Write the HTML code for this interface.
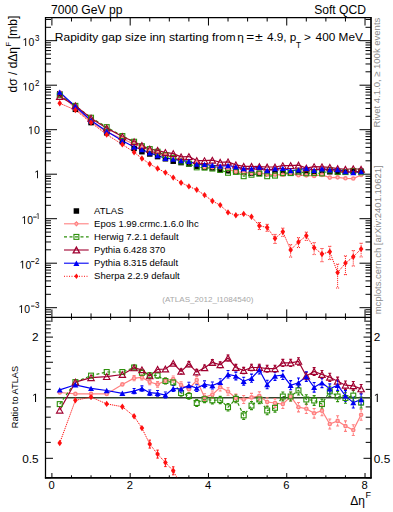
<!DOCTYPE html><html><head><meta charset="utf-8"><style>html,body{margin:0;padding:0;background:#fff;width:393px;height:512px;overflow:hidden;position:relative}svg text{font-family:"Liberation Sans",sans-serif}</style></head><body><svg width="393" height="512" viewBox="0 0 393 512" style="position:absolute;left:0;top:0">
<defs><clipPath id="cm"><rect x="45.5" y="17.5" width="325.5" height="299.9"/></clipPath><clipPath id="cr"><rect x="45.5" y="317.4" width="325.5" height="160.2"/></clipPath></defs>
<line x1="45.5" y1="317.57" x2="51" y2="317.57" stroke="#000" stroke-width="1.0"/>
<line x1="371" y1="317.57" x2="365.5" y2="317.57" stroke="#000" stroke-width="1.0"/>
<line x1="45.5" y1="314.59" x2="51" y2="314.59" stroke="#000" stroke-width="1.0"/>
<line x1="371" y1="314.59" x2="365.5" y2="314.59" stroke="#000" stroke-width="1.0"/>
<line x1="45.5" y1="312.01" x2="51" y2="312.01" stroke="#000" stroke-width="1.0"/>
<line x1="371" y1="312.01" x2="365.5" y2="312.01" stroke="#000" stroke-width="1.0"/>
<line x1="45.5" y1="309.74" x2="51" y2="309.74" stroke="#000" stroke-width="1.0"/>
<line x1="371" y1="309.74" x2="365.5" y2="309.74" stroke="#000" stroke-width="1.0"/>
<line x1="45.5" y1="307.7" x2="57" y2="307.7" stroke="#000" stroke-width="1.0"/>
<line x1="371" y1="307.7" x2="359.5" y2="307.7" stroke="#000" stroke-width="1.0"/>
<line x1="45.5" y1="294.3" x2="51" y2="294.3" stroke="#000" stroke-width="1.0"/>
<line x1="371" y1="294.3" x2="365.5" y2="294.3" stroke="#000" stroke-width="1.0"/>
<line x1="45.5" y1="286.47" x2="51" y2="286.47" stroke="#000" stroke-width="1.0"/>
<line x1="371" y1="286.47" x2="365.5" y2="286.47" stroke="#000" stroke-width="1.0"/>
<line x1="45.5" y1="280.91" x2="51" y2="280.91" stroke="#000" stroke-width="1.0"/>
<line x1="371" y1="280.91" x2="365.5" y2="280.91" stroke="#000" stroke-width="1.0"/>
<line x1="45.5" y1="276.6" x2="51" y2="276.6" stroke="#000" stroke-width="1.0"/>
<line x1="371" y1="276.6" x2="365.5" y2="276.6" stroke="#000" stroke-width="1.0"/>
<line x1="45.5" y1="273.07" x2="51" y2="273.07" stroke="#000" stroke-width="1.0"/>
<line x1="371" y1="273.07" x2="365.5" y2="273.07" stroke="#000" stroke-width="1.0"/>
<line x1="45.5" y1="270.09" x2="51" y2="270.09" stroke="#000" stroke-width="1.0"/>
<line x1="371" y1="270.09" x2="365.5" y2="270.09" stroke="#000" stroke-width="1.0"/>
<line x1="45.5" y1="267.51" x2="51" y2="267.51" stroke="#000" stroke-width="1.0"/>
<line x1="371" y1="267.51" x2="365.5" y2="267.51" stroke="#000" stroke-width="1.0"/>
<line x1="45.5" y1="265.24" x2="51" y2="265.24" stroke="#000" stroke-width="1.0"/>
<line x1="371" y1="265.24" x2="365.5" y2="265.24" stroke="#000" stroke-width="1.0"/>
<line x1="45.5" y1="263.2" x2="57" y2="263.2" stroke="#000" stroke-width="1.0"/>
<line x1="371" y1="263.2" x2="359.5" y2="263.2" stroke="#000" stroke-width="1.0"/>
<line x1="45.5" y1="249.8" x2="51" y2="249.8" stroke="#000" stroke-width="1.0"/>
<line x1="371" y1="249.8" x2="365.5" y2="249.8" stroke="#000" stroke-width="1.0"/>
<line x1="45.5" y1="241.97" x2="51" y2="241.97" stroke="#000" stroke-width="1.0"/>
<line x1="371" y1="241.97" x2="365.5" y2="241.97" stroke="#000" stroke-width="1.0"/>
<line x1="45.5" y1="236.41" x2="51" y2="236.41" stroke="#000" stroke-width="1.0"/>
<line x1="371" y1="236.41" x2="365.5" y2="236.41" stroke="#000" stroke-width="1.0"/>
<line x1="45.5" y1="232.1" x2="51" y2="232.1" stroke="#000" stroke-width="1.0"/>
<line x1="371" y1="232.1" x2="365.5" y2="232.1" stroke="#000" stroke-width="1.0"/>
<line x1="45.5" y1="228.57" x2="51" y2="228.57" stroke="#000" stroke-width="1.0"/>
<line x1="371" y1="228.57" x2="365.5" y2="228.57" stroke="#000" stroke-width="1.0"/>
<line x1="45.5" y1="225.59" x2="51" y2="225.59" stroke="#000" stroke-width="1.0"/>
<line x1="371" y1="225.59" x2="365.5" y2="225.59" stroke="#000" stroke-width="1.0"/>
<line x1="45.5" y1="223.01" x2="51" y2="223.01" stroke="#000" stroke-width="1.0"/>
<line x1="371" y1="223.01" x2="365.5" y2="223.01" stroke="#000" stroke-width="1.0"/>
<line x1="45.5" y1="220.74" x2="51" y2="220.74" stroke="#000" stroke-width="1.0"/>
<line x1="371" y1="220.74" x2="365.5" y2="220.74" stroke="#000" stroke-width="1.0"/>
<line x1="45.5" y1="218.7" x2="57" y2="218.7" stroke="#000" stroke-width="1.0"/>
<line x1="371" y1="218.7" x2="359.5" y2="218.7" stroke="#000" stroke-width="1.0"/>
<line x1="45.5" y1="205.3" x2="51" y2="205.3" stroke="#000" stroke-width="1.0"/>
<line x1="371" y1="205.3" x2="365.5" y2="205.3" stroke="#000" stroke-width="1.0"/>
<line x1="45.5" y1="197.47" x2="51" y2="197.47" stroke="#000" stroke-width="1.0"/>
<line x1="371" y1="197.47" x2="365.5" y2="197.47" stroke="#000" stroke-width="1.0"/>
<line x1="45.5" y1="191.91" x2="51" y2="191.91" stroke="#000" stroke-width="1.0"/>
<line x1="371" y1="191.91" x2="365.5" y2="191.91" stroke="#000" stroke-width="1.0"/>
<line x1="45.5" y1="187.6" x2="51" y2="187.6" stroke="#000" stroke-width="1.0"/>
<line x1="371" y1="187.6" x2="365.5" y2="187.6" stroke="#000" stroke-width="1.0"/>
<line x1="45.5" y1="184.07" x2="51" y2="184.07" stroke="#000" stroke-width="1.0"/>
<line x1="371" y1="184.07" x2="365.5" y2="184.07" stroke="#000" stroke-width="1.0"/>
<line x1="45.5" y1="181.09" x2="51" y2="181.09" stroke="#000" stroke-width="1.0"/>
<line x1="371" y1="181.09" x2="365.5" y2="181.09" stroke="#000" stroke-width="1.0"/>
<line x1="45.5" y1="178.51" x2="51" y2="178.51" stroke="#000" stroke-width="1.0"/>
<line x1="371" y1="178.51" x2="365.5" y2="178.51" stroke="#000" stroke-width="1.0"/>
<line x1="45.5" y1="176.24" x2="51" y2="176.24" stroke="#000" stroke-width="1.0"/>
<line x1="371" y1="176.24" x2="365.5" y2="176.24" stroke="#000" stroke-width="1.0"/>
<line x1="45.5" y1="174.2" x2="57" y2="174.2" stroke="#000" stroke-width="1.0"/>
<line x1="371" y1="174.2" x2="359.5" y2="174.2" stroke="#000" stroke-width="1.0"/>
<line x1="45.5" y1="160.8" x2="51" y2="160.8" stroke="#000" stroke-width="1.0"/>
<line x1="371" y1="160.8" x2="365.5" y2="160.8" stroke="#000" stroke-width="1.0"/>
<line x1="45.5" y1="152.97" x2="51" y2="152.97" stroke="#000" stroke-width="1.0"/>
<line x1="371" y1="152.97" x2="365.5" y2="152.97" stroke="#000" stroke-width="1.0"/>
<line x1="45.5" y1="147.41" x2="51" y2="147.41" stroke="#000" stroke-width="1.0"/>
<line x1="371" y1="147.41" x2="365.5" y2="147.41" stroke="#000" stroke-width="1.0"/>
<line x1="45.5" y1="143.1" x2="51" y2="143.1" stroke="#000" stroke-width="1.0"/>
<line x1="371" y1="143.1" x2="365.5" y2="143.1" stroke="#000" stroke-width="1.0"/>
<line x1="45.5" y1="139.57" x2="51" y2="139.57" stroke="#000" stroke-width="1.0"/>
<line x1="371" y1="139.57" x2="365.5" y2="139.57" stroke="#000" stroke-width="1.0"/>
<line x1="45.5" y1="136.59" x2="51" y2="136.59" stroke="#000" stroke-width="1.0"/>
<line x1="371" y1="136.59" x2="365.5" y2="136.59" stroke="#000" stroke-width="1.0"/>
<line x1="45.5" y1="134.01" x2="51" y2="134.01" stroke="#000" stroke-width="1.0"/>
<line x1="371" y1="134.01" x2="365.5" y2="134.01" stroke="#000" stroke-width="1.0"/>
<line x1="45.5" y1="131.74" x2="51" y2="131.74" stroke="#000" stroke-width="1.0"/>
<line x1="371" y1="131.74" x2="365.5" y2="131.74" stroke="#000" stroke-width="1.0"/>
<line x1="45.5" y1="129.7" x2="57" y2="129.7" stroke="#000" stroke-width="1.0"/>
<line x1="371" y1="129.7" x2="359.5" y2="129.7" stroke="#000" stroke-width="1.0"/>
<line x1="45.5" y1="116.3" x2="51" y2="116.3" stroke="#000" stroke-width="1.0"/>
<line x1="371" y1="116.3" x2="365.5" y2="116.3" stroke="#000" stroke-width="1.0"/>
<line x1="45.5" y1="108.47" x2="51" y2="108.47" stroke="#000" stroke-width="1.0"/>
<line x1="371" y1="108.47" x2="365.5" y2="108.47" stroke="#000" stroke-width="1.0"/>
<line x1="45.5" y1="102.91" x2="51" y2="102.91" stroke="#000" stroke-width="1.0"/>
<line x1="371" y1="102.91" x2="365.5" y2="102.91" stroke="#000" stroke-width="1.0"/>
<line x1="45.5" y1="98.6" x2="51" y2="98.6" stroke="#000" stroke-width="1.0"/>
<line x1="371" y1="98.6" x2="365.5" y2="98.6" stroke="#000" stroke-width="1.0"/>
<line x1="45.5" y1="95.07" x2="51" y2="95.07" stroke="#000" stroke-width="1.0"/>
<line x1="371" y1="95.07" x2="365.5" y2="95.07" stroke="#000" stroke-width="1.0"/>
<line x1="45.5" y1="92.09" x2="51" y2="92.09" stroke="#000" stroke-width="1.0"/>
<line x1="371" y1="92.09" x2="365.5" y2="92.09" stroke="#000" stroke-width="1.0"/>
<line x1="45.5" y1="89.51" x2="51" y2="89.51" stroke="#000" stroke-width="1.0"/>
<line x1="371" y1="89.51" x2="365.5" y2="89.51" stroke="#000" stroke-width="1.0"/>
<line x1="45.5" y1="87.24" x2="51" y2="87.24" stroke="#000" stroke-width="1.0"/>
<line x1="371" y1="87.24" x2="365.5" y2="87.24" stroke="#000" stroke-width="1.0"/>
<line x1="45.5" y1="85.2" x2="57" y2="85.2" stroke="#000" stroke-width="1.0"/>
<line x1="371" y1="85.2" x2="359.5" y2="85.2" stroke="#000" stroke-width="1.0"/>
<line x1="45.5" y1="71.8" x2="51" y2="71.8" stroke="#000" stroke-width="1.0"/>
<line x1="371" y1="71.8" x2="365.5" y2="71.8" stroke="#000" stroke-width="1.0"/>
<line x1="45.5" y1="63.97" x2="51" y2="63.97" stroke="#000" stroke-width="1.0"/>
<line x1="371" y1="63.97" x2="365.5" y2="63.97" stroke="#000" stroke-width="1.0"/>
<line x1="45.5" y1="58.41" x2="51" y2="58.41" stroke="#000" stroke-width="1.0"/>
<line x1="371" y1="58.41" x2="365.5" y2="58.41" stroke="#000" stroke-width="1.0"/>
<line x1="45.5" y1="54.1" x2="51" y2="54.1" stroke="#000" stroke-width="1.0"/>
<line x1="371" y1="54.1" x2="365.5" y2="54.1" stroke="#000" stroke-width="1.0"/>
<line x1="45.5" y1="50.57" x2="51" y2="50.57" stroke="#000" stroke-width="1.0"/>
<line x1="371" y1="50.57" x2="365.5" y2="50.57" stroke="#000" stroke-width="1.0"/>
<line x1="45.5" y1="47.59" x2="51" y2="47.59" stroke="#000" stroke-width="1.0"/>
<line x1="371" y1="47.59" x2="365.5" y2="47.59" stroke="#000" stroke-width="1.0"/>
<line x1="45.5" y1="45.01" x2="51" y2="45.01" stroke="#000" stroke-width="1.0"/>
<line x1="371" y1="45.01" x2="365.5" y2="45.01" stroke="#000" stroke-width="1.0"/>
<line x1="45.5" y1="42.74" x2="51" y2="42.74" stroke="#000" stroke-width="1.0"/>
<line x1="371" y1="42.74" x2="365.5" y2="42.74" stroke="#000" stroke-width="1.0"/>
<line x1="45.5" y1="40.7" x2="57" y2="40.7" stroke="#000" stroke-width="1.0"/>
<line x1="371" y1="40.7" x2="359.5" y2="40.7" stroke="#000" stroke-width="1.0"/>
<line x1="45.5" y1="27.3" x2="51" y2="27.3" stroke="#000" stroke-width="1.0"/>
<line x1="371" y1="27.3" x2="365.5" y2="27.3" stroke="#000" stroke-width="1.0"/>
<line x1="45.5" y1="19.47" x2="51" y2="19.47" stroke="#000" stroke-width="1.0"/>
<line x1="371" y1="19.47" x2="365.5" y2="19.47" stroke="#000" stroke-width="1.0"/>
<line x1="45.5" y1="477.81" x2="50.8" y2="477.81" stroke="#000" stroke-width="1.0"/>
<line x1="371" y1="477.81" x2="365.7" y2="477.81" stroke="#000" stroke-width="1.0"/>
<line x1="45.5" y1="458.3" x2="53" y2="458.3" stroke="#000" stroke-width="1.0"/>
<line x1="371" y1="458.3" x2="363.5" y2="458.3" stroke="#000" stroke-width="1.0"/>
<line x1="45.5" y1="442.36" x2="50.8" y2="442.36" stroke="#000" stroke-width="1.0"/>
<line x1="371" y1="442.36" x2="365.7" y2="442.36" stroke="#000" stroke-width="1.0"/>
<line x1="45.5" y1="428.88" x2="50.8" y2="428.88" stroke="#000" stroke-width="1.0"/>
<line x1="371" y1="428.88" x2="365.7" y2="428.88" stroke="#000" stroke-width="1.0"/>
<line x1="45.5" y1="417.21" x2="50.8" y2="417.21" stroke="#000" stroke-width="1.0"/>
<line x1="371" y1="417.21" x2="365.7" y2="417.21" stroke="#000" stroke-width="1.0"/>
<line x1="45.5" y1="406.91" x2="50.8" y2="406.91" stroke="#000" stroke-width="1.0"/>
<line x1="371" y1="406.91" x2="365.7" y2="406.91" stroke="#000" stroke-width="1.0"/>
<line x1="45.5" y1="397.7" x2="54.5" y2="397.7" stroke="#000" stroke-width="1.0"/>
<line x1="371" y1="397.7" x2="362" y2="397.7" stroke="#000" stroke-width="1.0"/>
<line x1="45.5" y1="389.37" x2="50.8" y2="389.37" stroke="#000" stroke-width="1.0"/>
<line x1="371" y1="389.37" x2="365.7" y2="389.37" stroke="#000" stroke-width="1.0"/>
<line x1="45.5" y1="381.76" x2="50.8" y2="381.76" stroke="#000" stroke-width="1.0"/>
<line x1="371" y1="381.76" x2="365.7" y2="381.76" stroke="#000" stroke-width="1.0"/>
<line x1="45.5" y1="374.76" x2="50.8" y2="374.76" stroke="#000" stroke-width="1.0"/>
<line x1="371" y1="374.76" x2="365.7" y2="374.76" stroke="#000" stroke-width="1.0"/>
<line x1="45.5" y1="368.28" x2="50.8" y2="368.28" stroke="#000" stroke-width="1.0"/>
<line x1="371" y1="368.28" x2="365.7" y2="368.28" stroke="#000" stroke-width="1.0"/>
<line x1="45.5" y1="362.25" x2="53" y2="362.25" stroke="#000" stroke-width="1.0"/>
<line x1="371" y1="362.25" x2="363.5" y2="362.25" stroke="#000" stroke-width="1.0"/>
<line x1="45.5" y1="356.61" x2="50.8" y2="356.61" stroke="#000" stroke-width="1.0"/>
<line x1="371" y1="356.61" x2="365.7" y2="356.61" stroke="#000" stroke-width="1.0"/>
<line x1="45.5" y1="351.31" x2="50.8" y2="351.31" stroke="#000" stroke-width="1.0"/>
<line x1="371" y1="351.31" x2="365.7" y2="351.31" stroke="#000" stroke-width="1.0"/>
<line x1="45.5" y1="346.31" x2="50.8" y2="346.31" stroke="#000" stroke-width="1.0"/>
<line x1="371" y1="346.31" x2="365.7" y2="346.31" stroke="#000" stroke-width="1.0"/>
<line x1="45.5" y1="341.59" x2="50.8" y2="341.59" stroke="#000" stroke-width="1.0"/>
<line x1="371" y1="341.59" x2="365.7" y2="341.59" stroke="#000" stroke-width="1.0"/>
<line x1="45.5" y1="337.1" x2="53" y2="337.1" stroke="#000" stroke-width="1.0"/>
<line x1="371" y1="337.1" x2="363.5" y2="337.1" stroke="#000" stroke-width="1.0"/>
<line x1="45.5" y1="332.84" x2="50.8" y2="332.84" stroke="#000" stroke-width="1.0"/>
<line x1="371" y1="332.84" x2="365.7" y2="332.84" stroke="#000" stroke-width="1.0"/>
<line x1="45.5" y1="328.77" x2="50.8" y2="328.77" stroke="#000" stroke-width="1.0"/>
<line x1="371" y1="328.77" x2="365.7" y2="328.77" stroke="#000" stroke-width="1.0"/>
<line x1="45.5" y1="324.88" x2="50.8" y2="324.88" stroke="#000" stroke-width="1.0"/>
<line x1="371" y1="324.88" x2="365.7" y2="324.88" stroke="#000" stroke-width="1.0"/>
<line x1="45.5" y1="321.16" x2="50.8" y2="321.16" stroke="#000" stroke-width="1.0"/>
<line x1="371" y1="321.16" x2="365.7" y2="321.16" stroke="#000" stroke-width="1.0"/>
<line x1="51.9" y1="17.5" x2="51.9" y2="25.5" stroke="#000" stroke-width="1.0"/>
<line x1="51.9" y1="317.4" x2="51.9" y2="309.4" stroke="#000" stroke-width="1.0"/>
<line x1="51.9" y1="317.4" x2="51.9" y2="322" stroke="#000" stroke-width="1.0"/>
<line x1="51.9" y1="477.6" x2="51.9" y2="473" stroke="#000" stroke-width="1.0"/>
<line x1="71.47" y1="17.5" x2="71.47" y2="21.5" stroke="#000" stroke-width="1.0"/>
<line x1="71.47" y1="317.4" x2="71.47" y2="313.4" stroke="#000" stroke-width="1.0"/>
<line x1="71.47" y1="317.4" x2="71.47" y2="319.7" stroke="#000" stroke-width="1.0"/>
<line x1="71.47" y1="477.6" x2="71.47" y2="475.3" stroke="#000" stroke-width="1.0"/>
<line x1="91.04" y1="17.5" x2="91.04" y2="21.5" stroke="#000" stroke-width="1.0"/>
<line x1="91.04" y1="317.4" x2="91.04" y2="313.4" stroke="#000" stroke-width="1.0"/>
<line x1="91.04" y1="317.4" x2="91.04" y2="319.7" stroke="#000" stroke-width="1.0"/>
<line x1="91.04" y1="477.6" x2="91.04" y2="475.3" stroke="#000" stroke-width="1.0"/>
<line x1="110.61" y1="17.5" x2="110.61" y2="21.5" stroke="#000" stroke-width="1.0"/>
<line x1="110.61" y1="317.4" x2="110.61" y2="313.4" stroke="#000" stroke-width="1.0"/>
<line x1="110.61" y1="317.4" x2="110.61" y2="319.7" stroke="#000" stroke-width="1.0"/>
<line x1="110.61" y1="477.6" x2="110.61" y2="475.3" stroke="#000" stroke-width="1.0"/>
<line x1="130.18" y1="17.5" x2="130.18" y2="25.5" stroke="#000" stroke-width="1.0"/>
<line x1="130.18" y1="317.4" x2="130.18" y2="309.4" stroke="#000" stroke-width="1.0"/>
<line x1="130.18" y1="317.4" x2="130.18" y2="322" stroke="#000" stroke-width="1.0"/>
<line x1="130.18" y1="477.6" x2="130.18" y2="473" stroke="#000" stroke-width="1.0"/>
<line x1="149.75" y1="17.5" x2="149.75" y2="21.5" stroke="#000" stroke-width="1.0"/>
<line x1="149.75" y1="317.4" x2="149.75" y2="313.4" stroke="#000" stroke-width="1.0"/>
<line x1="149.75" y1="317.4" x2="149.75" y2="319.7" stroke="#000" stroke-width="1.0"/>
<line x1="149.75" y1="477.6" x2="149.75" y2="475.3" stroke="#000" stroke-width="1.0"/>
<line x1="169.32" y1="17.5" x2="169.32" y2="21.5" stroke="#000" stroke-width="1.0"/>
<line x1="169.32" y1="317.4" x2="169.32" y2="313.4" stroke="#000" stroke-width="1.0"/>
<line x1="169.32" y1="317.4" x2="169.32" y2="319.7" stroke="#000" stroke-width="1.0"/>
<line x1="169.32" y1="477.6" x2="169.32" y2="475.3" stroke="#000" stroke-width="1.0"/>
<line x1="188.89" y1="17.5" x2="188.89" y2="21.5" stroke="#000" stroke-width="1.0"/>
<line x1="188.89" y1="317.4" x2="188.89" y2="313.4" stroke="#000" stroke-width="1.0"/>
<line x1="188.89" y1="317.4" x2="188.89" y2="319.7" stroke="#000" stroke-width="1.0"/>
<line x1="188.89" y1="477.6" x2="188.89" y2="475.3" stroke="#000" stroke-width="1.0"/>
<line x1="208.46" y1="17.5" x2="208.46" y2="25.5" stroke="#000" stroke-width="1.0"/>
<line x1="208.46" y1="317.4" x2="208.46" y2="309.4" stroke="#000" stroke-width="1.0"/>
<line x1="208.46" y1="317.4" x2="208.46" y2="322" stroke="#000" stroke-width="1.0"/>
<line x1="208.46" y1="477.6" x2="208.46" y2="473" stroke="#000" stroke-width="1.0"/>
<line x1="228.03" y1="17.5" x2="228.03" y2="21.5" stroke="#000" stroke-width="1.0"/>
<line x1="228.03" y1="317.4" x2="228.03" y2="313.4" stroke="#000" stroke-width="1.0"/>
<line x1="228.03" y1="317.4" x2="228.03" y2="319.7" stroke="#000" stroke-width="1.0"/>
<line x1="228.03" y1="477.6" x2="228.03" y2="475.3" stroke="#000" stroke-width="1.0"/>
<line x1="247.6" y1="17.5" x2="247.6" y2="21.5" stroke="#000" stroke-width="1.0"/>
<line x1="247.6" y1="317.4" x2="247.6" y2="313.4" stroke="#000" stroke-width="1.0"/>
<line x1="247.6" y1="317.4" x2="247.6" y2="319.7" stroke="#000" stroke-width="1.0"/>
<line x1="247.6" y1="477.6" x2="247.6" y2="475.3" stroke="#000" stroke-width="1.0"/>
<line x1="267.17" y1="17.5" x2="267.17" y2="21.5" stroke="#000" stroke-width="1.0"/>
<line x1="267.17" y1="317.4" x2="267.17" y2="313.4" stroke="#000" stroke-width="1.0"/>
<line x1="267.17" y1="317.4" x2="267.17" y2="319.7" stroke="#000" stroke-width="1.0"/>
<line x1="267.17" y1="477.6" x2="267.17" y2="475.3" stroke="#000" stroke-width="1.0"/>
<line x1="286.74" y1="17.5" x2="286.74" y2="25.5" stroke="#000" stroke-width="1.0"/>
<line x1="286.74" y1="317.4" x2="286.74" y2="309.4" stroke="#000" stroke-width="1.0"/>
<line x1="286.74" y1="317.4" x2="286.74" y2="322" stroke="#000" stroke-width="1.0"/>
<line x1="286.74" y1="477.6" x2="286.74" y2="473" stroke="#000" stroke-width="1.0"/>
<line x1="306.31" y1="17.5" x2="306.31" y2="21.5" stroke="#000" stroke-width="1.0"/>
<line x1="306.31" y1="317.4" x2="306.31" y2="313.4" stroke="#000" stroke-width="1.0"/>
<line x1="306.31" y1="317.4" x2="306.31" y2="319.7" stroke="#000" stroke-width="1.0"/>
<line x1="306.31" y1="477.6" x2="306.31" y2="475.3" stroke="#000" stroke-width="1.0"/>
<line x1="325.88" y1="17.5" x2="325.88" y2="21.5" stroke="#000" stroke-width="1.0"/>
<line x1="325.88" y1="317.4" x2="325.88" y2="313.4" stroke="#000" stroke-width="1.0"/>
<line x1="325.88" y1="317.4" x2="325.88" y2="319.7" stroke="#000" stroke-width="1.0"/>
<line x1="325.88" y1="477.6" x2="325.88" y2="475.3" stroke="#000" stroke-width="1.0"/>
<line x1="345.45" y1="17.5" x2="345.45" y2="21.5" stroke="#000" stroke-width="1.0"/>
<line x1="345.45" y1="317.4" x2="345.45" y2="313.4" stroke="#000" stroke-width="1.0"/>
<line x1="345.45" y1="317.4" x2="345.45" y2="319.7" stroke="#000" stroke-width="1.0"/>
<line x1="345.45" y1="477.6" x2="345.45" y2="475.3" stroke="#000" stroke-width="1.0"/>
<line x1="365.02" y1="17.5" x2="365.02" y2="25.5" stroke="#000" stroke-width="1.0"/>
<line x1="365.02" y1="317.4" x2="365.02" y2="309.4" stroke="#000" stroke-width="1.0"/>
<line x1="365.02" y1="317.4" x2="365.02" y2="322" stroke="#000" stroke-width="1.0"/>
<line x1="365.02" y1="477.6" x2="365.02" y2="473" stroke="#000" stroke-width="1.0"/>
<line x1="45.5" y1="17.5" x2="371" y2="17.5" stroke="#000" stroke-width="1.25"/>
<line x1="45.5" y1="317.4" x2="371" y2="317.4" stroke="#000" stroke-width="1.25"/>
<line x1="45.5" y1="16.9" x2="45.5" y2="478.5" stroke="#000" stroke-width="1.25"/>
<line x1="371" y1="16.9" x2="371" y2="478.5" stroke="#000" stroke-width="1.7"/>
<line x1="44.9" y1="477.9" x2="371.6" y2="477.9" stroke="#000" stroke-width="1.8"/>
<line x1="45.5" y1="397.7" x2="371" y2="397.7" stroke="#34442c" stroke-width="1.4"/>
<polyline points="59.73,103.3 75.38,110 91.04,122.6 106.7,134.6 122.35,144.4 134.09,152.2 141.92,158.5 149.75,164 157.58,168.5 165.41,172.6 173.23,177.6 181.06,182.7 188.89,186.4 196.72,189.8 204.55,195.1 212.37,201 220.2,205.1 228.03,212.4 235.86,215.3 243.69,213.9 251.51,216.7 259.34,225.7 267.17,227.5 275,238.4 282.83,231.8 290.65,249.9 298.48,242 306.31,235.8 314.14,247.7 321.97,254 329.79,251.8 337.62,272.6 345.45,263.1 353.28,256.8 361.11,248.9" fill="none" stroke="#ff1010" stroke-width="1.0" stroke-dasharray="1.2,0.9" clip-path="url(#cm)"/>
<polyline points="59.73,92.65 75.38,108.46 91.04,121.76 106.7,131.96 122.35,138.76 134.09,144.09 141.92,147.21 149.75,150.53 157.58,153.64 165.41,155.06 173.23,157.07 181.06,159.79 188.89,162.12 196.72,162.29 204.55,167.19 212.37,167.31 220.2,167.2 228.03,169.33 235.86,171.67 243.69,172.7 251.51,172.93 259.34,172.9 267.17,174.35 275,174.57 282.83,174.81 290.65,173.03 298.48,175.3 306.31,175.33 314.14,175.95 321.97,174.9 329.79,177.61 337.62,177.33 345.45,178.28 353.28,178.56 361.11,174.98" fill="none" stroke="#ff8080" stroke-width="1.2" clip-path="url(#cm)"/>
<polyline points="59.73,95.21 75.38,105.85 91.04,117.71 106.7,127.12 122.35,136.02 134.09,141.72 141.92,146.2 149.75,149.07 157.58,151.67 165.41,155.11 173.23,157.82 181.06,161.56 188.89,163.62 196.72,167.37 204.55,167.63 212.37,168.57 220.2,170.01 228.03,172.8 235.86,171.87 243.69,176.21 251.51,174.75 259.34,173.7 267.17,176.23 275,175.63 282.83,173.13 290.65,173.03 298.48,171.59 306.31,173.3 314.14,173.12 321.97,173.41 329.79,170.39 337.62,171.93 345.45,172.07 353.28,170.94 361.11,172.28" fill="none" stroke="#2e900c" stroke-width="1.2" stroke-dasharray="3,2.5" clip-path="url(#cm)"/>
<polyline points="59.73,96.56 75.38,105.85 91.04,118.18 106.7,128.14 122.35,136.57 134.09,141.81 141.92,145.53 149.75,149.18 157.58,150.32 165.41,152.46 173.23,153.6 181.06,156.79 188.89,156.57 196.72,160.54 204.55,160.69 212.37,160.22 220.2,162.23 228.03,161.92 235.86,164.92 243.69,166.29 251.51,166.32 259.34,166.62 267.17,166.99 275,166.99 282.83,165.71 290.65,165.61 298.48,165.18 306.31,168.1 314.14,166.71 321.97,166.87 329.79,167.29 337.62,168.55 345.45,169.24 353.28,168.77 361.11,169.25" fill="none" stroke="#a00030" stroke-width="1.2" clip-path="url(#cm)"/>
<polyline points="59.73,92.08 75.38,106.45 91.04,120.54 106.7,131.21 122.35,140.73 134.09,146.94 141.92,149.67 149.75,152.89 157.58,155.65 165.41,158.2 173.23,159.17 181.06,160.65 188.89,161.3 196.72,164.08 204.55,164.34 212.37,165.3 220.2,166.12 228.03,165.53 235.86,166.8 243.69,168.65 251.51,168.69 259.34,167.15 267.17,170.48 275,168.6 282.83,168.4 290.65,170.54 298.48,169.88 306.31,168.24 314.14,170.2 321.97,168.68 329.79,169.85 337.62,169.44 345.45,171.6 353.28,172.48 361.11,171.6" fill="none" stroke="#0000f5" stroke-width="1.2" clip-path="url(#cm)"/>
<g clip-path="url(#cm)">
<rect x="56.98" y="91.05" width="5.5" height="5.5" fill="#000"/>
<rect x="72.63" y="106.55" width="5.5" height="5.5" fill="#000"/>
<rect x="88.29" y="119.85" width="5.5" height="5.5" fill="#000"/>
<rect x="103.95" y="130.05" width="5.5" height="5.5" fill="#000"/>
<rect x="119.6" y="138.95" width="5.5" height="5.5" fill="#000"/>
<rect x="131.34" y="145.65" width="5.5" height="5.5" fill="#000"/>
<rect x="139.17" y="148.95" width="5.5" height="5.5" fill="#000"/>
<rect x="147" y="151.25" width="5.5" height="5.5" fill="#000"/>
<rect x="154.83" y="153.85" width="5.5" height="5.5" fill="#000"/>
<rect x="162.66" y="156.05" width="5.5" height="5.5" fill="#000"/>
<rect x="170.48" y="158.45" width="5.5" height="5.5" fill="#000"/>
<rect x="178.31" y="159.85" width="5.5" height="5.5" fill="#000"/>
<rect x="186.14" y="161.25" width="5.5" height="5.5" fill="#000"/>
<rect x="193.97" y="163.45" width="5.5" height="5.5" fill="#000"/>
<rect x="201.8" y="164.55" width="5.5" height="5.5" fill="#000"/>
<rect x="209.62" y="165.25" width="5.5" height="5.5" fill="#000"/>
<rect x="217.45" y="166.75" width="5.5" height="5.5" fill="#000"/>
<rect x="225.28" y="167.95" width="5.5" height="5.5" fill="#000"/>
<rect x="233.11" y="168.85" width="5.5" height="5.5" fill="#000"/>
<rect x="240.94" y="169.55" width="5.5" height="5.5" fill="#000"/>
<rect x="248.76" y="170.25" width="5.5" height="5.5" fill="#000"/>
<rect x="256.59" y="170.55" width="5.5" height="5.5" fill="#000"/>
<rect x="264.42" y="170.65" width="5.5" height="5.5" fill="#000"/>
<rect x="272.25" y="170.65" width="5.5" height="5.5" fill="#000"/>
<rect x="280.08" y="170.65" width="5.5" height="5.5" fill="#000"/>
<rect x="287.9" y="170.55" width="5.5" height="5.5" fill="#000"/>
<rect x="295.73" y="170.45" width="5.5" height="5.5" fill="#000"/>
<rect x="303.56" y="170.15" width="5.5" height="5.5" fill="#000"/>
<rect x="311.39" y="169.75" width="5.5" height="5.5" fill="#000"/>
<rect x="319.22" y="169.25" width="5.5" height="5.5" fill="#000"/>
<rect x="327.04" y="169.05" width="5.5" height="5.5" fill="#000"/>
<rect x="334.87" y="169.45" width="5.5" height="5.5" fill="#000"/>
<rect x="342.7" y="169.25" width="5.5" height="5.5" fill="#000"/>
<rect x="350.53" y="168.65" width="5.5" height="5.5" fill="#000"/>
<rect x="358.36" y="168.45" width="5.5" height="5.5" fill="#000"/>
<circle cx="59.73" cy="92.65" r="2.3" fill="#ff8080"/><circle cx="59.73" cy="92.65" r="0.9" fill="#ffc0c0"/>
<circle cx="75.38" cy="108.46" r="2.3" fill="#ff8080"/><circle cx="75.38" cy="108.46" r="0.9" fill="#ffc0c0"/>
<circle cx="91.04" cy="121.76" r="2.3" fill="#ff8080"/><circle cx="91.04" cy="121.76" r="0.9" fill="#ffc0c0"/>
<circle cx="106.7" cy="131.96" r="2.3" fill="#ff8080"/><circle cx="106.7" cy="131.96" r="0.9" fill="#ffc0c0"/>
<circle cx="122.35" cy="138.76" r="2.3" fill="#ff8080"/><circle cx="122.35" cy="138.76" r="0.9" fill="#ffc0c0"/>
<circle cx="134.09" cy="144.09" r="2.3" fill="#ff8080"/><circle cx="134.09" cy="144.09" r="0.9" fill="#ffc0c0"/>
<circle cx="141.92" cy="147.21" r="2.3" fill="#ff8080"/><circle cx="141.92" cy="147.21" r="0.9" fill="#ffc0c0"/>
<circle cx="149.75" cy="150.53" r="2.3" fill="#ff8080"/><circle cx="149.75" cy="150.53" r="0.9" fill="#ffc0c0"/>
<circle cx="157.58" cy="153.64" r="2.3" fill="#ff8080"/><circle cx="157.58" cy="153.64" r="0.9" fill="#ffc0c0"/>
<circle cx="165.41" cy="155.06" r="2.3" fill="#ff8080"/><circle cx="165.41" cy="155.06" r="0.9" fill="#ffc0c0"/>
<circle cx="173.23" cy="157.07" r="2.3" fill="#ff8080"/><circle cx="173.23" cy="157.07" r="0.9" fill="#ffc0c0"/>
<circle cx="181.06" cy="159.79" r="2.3" fill="#ff8080"/><circle cx="181.06" cy="159.79" r="0.9" fill="#ffc0c0"/>
<circle cx="188.89" cy="162.12" r="2.3" fill="#ff8080"/><circle cx="188.89" cy="162.12" r="0.9" fill="#ffc0c0"/>
<circle cx="196.72" cy="162.29" r="2.3" fill="#ff8080"/><circle cx="196.72" cy="162.29" r="0.9" fill="#ffc0c0"/>
<circle cx="204.55" cy="167.19" r="2.3" fill="#ff8080"/><circle cx="204.55" cy="167.19" r="0.9" fill="#ffc0c0"/>
<circle cx="212.37" cy="167.31" r="2.3" fill="#ff8080"/><circle cx="212.37" cy="167.31" r="0.9" fill="#ffc0c0"/>
<circle cx="220.2" cy="167.2" r="2.3" fill="#ff8080"/><circle cx="220.2" cy="167.2" r="0.9" fill="#ffc0c0"/>
<circle cx="228.03" cy="169.33" r="2.3" fill="#ff8080"/><circle cx="228.03" cy="169.33" r="0.9" fill="#ffc0c0"/>
<circle cx="235.86" cy="171.67" r="2.3" fill="#ff8080"/><circle cx="235.86" cy="171.67" r="0.9" fill="#ffc0c0"/>
<circle cx="243.69" cy="172.7" r="2.3" fill="#ff8080"/><circle cx="243.69" cy="172.7" r="0.9" fill="#ffc0c0"/>
<circle cx="251.51" cy="172.93" r="2.3" fill="#ff8080"/><circle cx="251.51" cy="172.93" r="0.9" fill="#ffc0c0"/>
<circle cx="259.34" cy="172.9" r="2.3" fill="#ff8080"/><circle cx="259.34" cy="172.9" r="0.9" fill="#ffc0c0"/>
<circle cx="267.17" cy="174.35" r="2.3" fill="#ff8080"/><circle cx="267.17" cy="174.35" r="0.9" fill="#ffc0c0"/>
<circle cx="275" cy="174.57" r="2.3" fill="#ff8080"/><circle cx="275" cy="174.57" r="0.9" fill="#ffc0c0"/>
<circle cx="282.83" cy="174.81" r="2.3" fill="#ff8080"/><circle cx="282.83" cy="174.81" r="0.9" fill="#ffc0c0"/>
<circle cx="290.65" cy="173.03" r="2.3" fill="#ff8080"/><circle cx="290.65" cy="173.03" r="0.9" fill="#ffc0c0"/>
<circle cx="298.48" cy="175.3" r="2.3" fill="#ff8080"/><circle cx="298.48" cy="175.3" r="0.9" fill="#ffc0c0"/>
<circle cx="306.31" cy="175.33" r="2.3" fill="#ff8080"/><circle cx="306.31" cy="175.33" r="0.9" fill="#ffc0c0"/>
<circle cx="314.14" cy="175.95" r="2.3" fill="#ff8080"/><circle cx="314.14" cy="175.95" r="0.9" fill="#ffc0c0"/>
<circle cx="321.97" cy="174.9" r="2.3" fill="#ff8080"/><circle cx="321.97" cy="174.9" r="0.9" fill="#ffc0c0"/>
<circle cx="329.79" cy="177.61" r="2.3" fill="#ff8080"/><circle cx="329.79" cy="177.61" r="0.9" fill="#ffc0c0"/>
<circle cx="337.62" cy="177.33" r="2.3" fill="#ff8080"/><circle cx="337.62" cy="177.33" r="0.9" fill="#ffc0c0"/>
<circle cx="345.45" cy="178.28" r="2.3" fill="#ff8080"/><circle cx="345.45" cy="178.28" r="0.9" fill="#ffc0c0"/>
<circle cx="353.28" cy="178.56" r="2.3" fill="#ff8080"/><circle cx="353.28" cy="178.56" r="0.9" fill="#ffc0c0"/>
<circle cx="361.11" cy="174.98" r="2.3" fill="#ff8080"/><circle cx="361.11" cy="174.98" r="0.9" fill="#ffc0c0"/>
<rect x="57.28" y="92.76" width="4.9" height="4.9" fill="none" stroke="#2e900c" stroke-width="1.1"/>
<rect x="72.93" y="103.4" width="4.9" height="4.9" fill="none" stroke="#2e900c" stroke-width="1.1"/>
<rect x="88.59" y="115.26" width="4.9" height="4.9" fill="none" stroke="#2e900c" stroke-width="1.1"/>
<rect x="104.25" y="124.67" width="4.9" height="4.9" fill="none" stroke="#2e900c" stroke-width="1.1"/>
<rect x="119.9" y="133.57" width="4.9" height="4.9" fill="none" stroke="#2e900c" stroke-width="1.1"/>
<rect x="131.64" y="139.27" width="4.9" height="4.9" fill="none" stroke="#2e900c" stroke-width="1.1"/>
<rect x="139.47" y="143.75" width="4.9" height="4.9" fill="none" stroke="#2e900c" stroke-width="1.1"/>
<rect x="147.3" y="146.62" width="4.9" height="4.9" fill="none" stroke="#2e900c" stroke-width="1.1"/>
<rect x="155.13" y="149.22" width="4.9" height="4.9" fill="none" stroke="#2e900c" stroke-width="1.1"/>
<rect x="162.96" y="152.66" width="4.9" height="4.9" fill="none" stroke="#2e900c" stroke-width="1.1"/>
<rect x="170.78" y="155.37" width="4.9" height="4.9" fill="none" stroke="#2e900c" stroke-width="1.1"/>
<rect x="178.61" y="159.11" width="4.9" height="4.9" fill="none" stroke="#2e900c" stroke-width="1.1"/>
<rect x="186.44" y="161.17" width="4.9" height="4.9" fill="none" stroke="#2e900c" stroke-width="1.1"/>
<rect x="194.27" y="164.92" width="4.9" height="4.9" fill="none" stroke="#2e900c" stroke-width="1.1"/>
<rect x="202.1" y="165.18" width="4.9" height="4.9" fill="none" stroke="#2e900c" stroke-width="1.1"/>
<rect x="209.92" y="166.12" width="4.9" height="4.9" fill="none" stroke="#2e900c" stroke-width="1.1"/>
<rect x="217.75" y="167.56" width="4.9" height="4.9" fill="none" stroke="#2e900c" stroke-width="1.1"/>
<rect x="225.58" y="170.35" width="4.9" height="4.9" fill="none" stroke="#2e900c" stroke-width="1.1"/>
<rect x="233.41" y="169.42" width="4.9" height="4.9" fill="none" stroke="#2e900c" stroke-width="1.1"/>
<rect x="241.24" y="173.76" width="4.9" height="4.9" fill="none" stroke="#2e900c" stroke-width="1.1"/>
<rect x="249.06" y="172.3" width="4.9" height="4.9" fill="none" stroke="#2e900c" stroke-width="1.1"/>
<rect x="256.89" y="171.25" width="4.9" height="4.9" fill="none" stroke="#2e900c" stroke-width="1.1"/>
<rect x="264.72" y="173.78" width="4.9" height="4.9" fill="none" stroke="#2e900c" stroke-width="1.1"/>
<rect x="272.55" y="173.18" width="4.9" height="4.9" fill="none" stroke="#2e900c" stroke-width="1.1"/>
<rect x="280.38" y="170.68" width="4.9" height="4.9" fill="none" stroke="#2e900c" stroke-width="1.1"/>
<rect x="288.2" y="170.58" width="4.9" height="4.9" fill="none" stroke="#2e900c" stroke-width="1.1"/>
<rect x="296.03" y="169.14" width="4.9" height="4.9" fill="none" stroke="#2e900c" stroke-width="1.1"/>
<rect x="303.86" y="170.85" width="4.9" height="4.9" fill="none" stroke="#2e900c" stroke-width="1.1"/>
<rect x="311.69" y="170.67" width="4.9" height="4.9" fill="none" stroke="#2e900c" stroke-width="1.1"/>
<rect x="319.52" y="170.96" width="4.9" height="4.9" fill="none" stroke="#2e900c" stroke-width="1.1"/>
<rect x="327.34" y="167.94" width="4.9" height="4.9" fill="none" stroke="#2e900c" stroke-width="1.1"/>
<rect x="335.17" y="169.48" width="4.9" height="4.9" fill="none" stroke="#2e900c" stroke-width="1.1"/>
<rect x="343" y="169.62" width="4.9" height="4.9" fill="none" stroke="#2e900c" stroke-width="1.1"/>
<rect x="350.83" y="168.49" width="4.9" height="4.9" fill="none" stroke="#2e900c" stroke-width="1.1"/>
<rect x="358.66" y="169.83" width="4.9" height="4.9" fill="none" stroke="#2e900c" stroke-width="1.1"/>
<polygon points="59.73,93.68 56.53,99.44 62.93,99.44" fill="none" stroke="#a00030" stroke-width="1.15"/>
<polygon points="75.38,102.97 72.18,108.73 78.58,108.73" fill="none" stroke="#a00030" stroke-width="1.15"/>
<polygon points="91.04,115.3 87.84,121.06 94.24,121.06" fill="none" stroke="#a00030" stroke-width="1.15"/>
<polygon points="106.7,125.26 103.5,131.02 109.9,131.02" fill="none" stroke="#a00030" stroke-width="1.15"/>
<polygon points="122.35,133.69 119.15,139.45 125.55,139.45" fill="none" stroke="#a00030" stroke-width="1.15"/>
<polygon points="134.09,138.93 130.89,144.69 137.29,144.69" fill="none" stroke="#a00030" stroke-width="1.15"/>
<polygon points="141.92,142.65 138.72,148.41 145.12,148.41" fill="none" stroke="#a00030" stroke-width="1.15"/>
<polygon points="149.75,146.3 146.55,152.06 152.95,152.06" fill="none" stroke="#a00030" stroke-width="1.15"/>
<polygon points="157.58,147.44 154.38,153.2 160.78,153.2" fill="none" stroke="#a00030" stroke-width="1.15"/>
<polygon points="165.41,149.58 162.21,155.34 168.61,155.34" fill="none" stroke="#a00030" stroke-width="1.15"/>
<polygon points="173.23,150.72 170.03,156.48 176.43,156.48" fill="none" stroke="#a00030" stroke-width="1.15"/>
<polygon points="181.06,153.91 177.86,159.67 184.26,159.67" fill="none" stroke="#a00030" stroke-width="1.15"/>
<polygon points="188.89,153.69 185.69,159.45 192.09,159.45" fill="none" stroke="#a00030" stroke-width="1.15"/>
<polygon points="196.72,157.66 193.52,163.42 199.92,163.42" fill="none" stroke="#a00030" stroke-width="1.15"/>
<polygon points="204.55,157.81 201.35,163.57 207.75,163.57" fill="none" stroke="#a00030" stroke-width="1.15"/>
<polygon points="212.37,157.34 209.17,163.1 215.57,163.1" fill="none" stroke="#a00030" stroke-width="1.15"/>
<polygon points="220.2,159.35 217,165.11 223.4,165.11" fill="none" stroke="#a00030" stroke-width="1.15"/>
<polygon points="228.03,159.04 224.83,164.8 231.23,164.8" fill="none" stroke="#a00030" stroke-width="1.15"/>
<polygon points="235.86,162.04 232.66,167.8 239.06,167.8" fill="none" stroke="#a00030" stroke-width="1.15"/>
<polygon points="243.69,163.41 240.49,169.17 246.89,169.17" fill="none" stroke="#a00030" stroke-width="1.15"/>
<polygon points="251.51,163.44 248.31,169.2 254.71,169.2" fill="none" stroke="#a00030" stroke-width="1.15"/>
<polygon points="259.34,163.74 256.14,169.5 262.54,169.5" fill="none" stroke="#a00030" stroke-width="1.15"/>
<polygon points="267.17,164.11 263.97,169.87 270.37,169.87" fill="none" stroke="#a00030" stroke-width="1.15"/>
<polygon points="275,164.11 271.8,169.87 278.2,169.87" fill="none" stroke="#a00030" stroke-width="1.15"/>
<polygon points="282.83,162.83 279.63,168.59 286.03,168.59" fill="none" stroke="#a00030" stroke-width="1.15"/>
<polygon points="290.65,162.73 287.45,168.49 293.85,168.49" fill="none" stroke="#a00030" stroke-width="1.15"/>
<polygon points="298.48,162.3 295.28,168.06 301.68,168.06" fill="none" stroke="#a00030" stroke-width="1.15"/>
<polygon points="306.31,165.22 303.11,170.98 309.51,170.98" fill="none" stroke="#a00030" stroke-width="1.15"/>
<polygon points="314.14,163.83 310.94,169.59 317.34,169.59" fill="none" stroke="#a00030" stroke-width="1.15"/>
<polygon points="321.97,163.99 318.77,169.75 325.17,169.75" fill="none" stroke="#a00030" stroke-width="1.15"/>
<polygon points="329.79,164.41 326.59,170.17 332.99,170.17" fill="none" stroke="#a00030" stroke-width="1.15"/>
<polygon points="337.62,165.67 334.42,171.43 340.82,171.43" fill="none" stroke="#a00030" stroke-width="1.15"/>
<polygon points="345.45,166.36 342.25,172.12 348.65,172.12" fill="none" stroke="#a00030" stroke-width="1.15"/>
<polygon points="353.28,165.89 350.08,171.65 356.48,171.65" fill="none" stroke="#a00030" stroke-width="1.15"/>
<polygon points="361.11,166.37 357.91,172.13 364.31,172.13" fill="none" stroke="#a00030" stroke-width="1.15"/>
<polygon points="59.73,89.38 56.73,94.78 62.73,94.78" fill="#0000f5"/>
<polygon points="75.38,103.75 72.38,109.15 78.38,109.15" fill="#0000f5"/>
<polygon points="91.04,117.84 88.04,123.24 94.04,123.24" fill="#0000f5"/>
<polygon points="106.7,128.51 103.7,133.91 109.7,133.91" fill="#0000f5"/>
<polygon points="122.35,138.03 119.35,143.43 125.35,143.43" fill="#0000f5"/>
<polygon points="134.09,144.24 131.09,149.64 137.09,149.64" fill="#0000f5"/>
<polygon points="141.92,146.97 138.92,152.37 144.92,152.37" fill="#0000f5"/>
<polygon points="149.75,150.19 146.75,155.59 152.75,155.59" fill="#0000f5"/>
<polygon points="157.58,152.95 154.58,158.35 160.58,158.35" fill="#0000f5"/>
<polygon points="165.41,155.5 162.41,160.9 168.41,160.9" fill="#0000f5"/>
<polygon points="173.23,156.47 170.23,161.87 176.23,161.87" fill="#0000f5"/>
<polygon points="181.06,157.95 178.06,163.35 184.06,163.35" fill="#0000f5"/>
<polygon points="188.89,158.6 185.89,164 191.89,164" fill="#0000f5"/>
<polygon points="196.72,161.38 193.72,166.78 199.72,166.78" fill="#0000f5"/>
<polygon points="204.55,161.64 201.55,167.04 207.55,167.04" fill="#0000f5"/>
<polygon points="212.37,162.6 209.37,168 215.37,168" fill="#0000f5"/>
<polygon points="220.2,163.42 217.2,168.82 223.2,168.82" fill="#0000f5"/>
<polygon points="228.03,162.83 225.03,168.23 231.03,168.23" fill="#0000f5"/>
<polygon points="235.86,164.1 232.86,169.5 238.86,169.5" fill="#0000f5"/>
<polygon points="243.69,165.95 240.69,171.35 246.69,171.35" fill="#0000f5"/>
<polygon points="251.51,165.99 248.51,171.39 254.51,171.39" fill="#0000f5"/>
<polygon points="259.34,164.45 256.34,169.85 262.34,169.85" fill="#0000f5"/>
<polygon points="267.17,167.78 264.17,173.18 270.17,173.18" fill="#0000f5"/>
<polygon points="275,165.9 272,171.3 278,171.3" fill="#0000f5"/>
<polygon points="282.83,165.7 279.83,171.1 285.83,171.1" fill="#0000f5"/>
<polygon points="290.65,167.84 287.65,173.24 293.65,173.24" fill="#0000f5"/>
<polygon points="298.48,167.18 295.48,172.58 301.48,172.58" fill="#0000f5"/>
<polygon points="306.31,165.54 303.31,170.94 309.31,170.94" fill="#0000f5"/>
<polygon points="314.14,167.5 311.14,172.9 317.14,172.9" fill="#0000f5"/>
<polygon points="321.97,165.98 318.97,171.38 324.97,171.38" fill="#0000f5"/>
<polygon points="329.79,167.15 326.79,172.55 332.79,172.55" fill="#0000f5"/>
<polygon points="337.62,166.74 334.62,172.14 340.62,172.14" fill="#0000f5"/>
<polygon points="345.45,168.9 342.45,174.3 348.45,174.3" fill="#0000f5"/>
<polygon points="353.28,169.78 350.28,175.18 356.28,175.18" fill="#0000f5"/>
<polygon points="361.11,168.9 358.11,174.3 364.11,174.3" fill="#0000f5"/>
<polygon points="59.73,100.1 62.03,103.3 59.73,106.5 57.43,103.3" fill="#ff1010"/>
<polygon points="75.38,106.8 77.68,110 75.38,113.2 73.08,110" fill="#ff1010"/>
<polygon points="91.04,119.4 93.34,122.6 91.04,125.8 88.74,122.6" fill="#ff1010"/>
<polygon points="106.7,131.4 109,134.6 106.7,137.8 104.4,134.6" fill="#ff1010"/>
<polygon points="122.35,141.2 124.65,144.4 122.35,147.6 120.05,144.4" fill="#ff1010"/>
<polygon points="134.09,149 136.39,152.2 134.09,155.4 131.79,152.2" fill="#ff1010"/>
<polygon points="141.92,155.3 144.22,158.5 141.92,161.7 139.62,158.5" fill="#ff1010"/>
<polygon points="149.75,160.8 152.05,164 149.75,167.2 147.45,164" fill="#ff1010"/>
<polygon points="157.58,165.3 159.88,168.5 157.58,171.7 155.28,168.5" fill="#ff1010"/>
<polygon points="165.41,169.4 167.71,172.6 165.41,175.8 163.11,172.6" fill="#ff1010"/>
<polygon points="173.23,174.4 175.53,177.6 173.23,180.8 170.93,177.6" fill="#ff1010"/>
<polygon points="181.06,179.5 183.36,182.7 181.06,185.9 178.76,182.7" fill="#ff1010"/>
<polygon points="188.89,183.2 191.19,186.4 188.89,189.6 186.59,186.4" fill="#ff1010"/>
<polygon points="196.72,186.6 199.02,189.8 196.72,193 194.42,189.8" fill="#ff1010"/>
<polygon points="204.55,191.9 206.85,195.1 204.55,198.3 202.25,195.1" fill="#ff1010"/>
<polygon points="212.37,197.8 214.67,201 212.37,204.2 210.07,201" fill="#ff1010"/>
<polygon points="220.2,201.9 222.5,205.1 220.2,208.3 217.9,205.1" fill="#ff1010"/>
<polygon points="228.03,209.2 230.33,212.4 228.03,215.6 225.73,212.4" fill="#ff1010"/>
<polygon points="235.86,212.1 238.16,215.3 235.86,218.5 233.56,215.3" fill="#ff1010"/>
<polygon points="243.69,210.7 245.99,213.9 243.69,217.1 241.39,213.9" fill="#ff1010"/>
<polygon points="251.51,213.5 253.81,216.7 251.51,219.9 249.21,216.7" fill="#ff1010"/>
<path d="M259.34 222.5V229.54 M257.84 222.5h3 M257.84 229.54h3" stroke="#ff1010" stroke-width="1" stroke-dasharray="1,1" fill="none"/>
<polygon points="259.34,222.5 261.64,225.7 259.34,228.9 257.04,225.7" fill="#ff1010"/>
<path d="M267.17 224.3V231.34 M265.67 224.3h3 M265.67 231.34h3" stroke="#ff1010" stroke-width="1" stroke-dasharray="1,1" fill="none"/>
<polygon points="267.17,224.3 269.47,227.5 267.17,230.7 264.87,227.5" fill="#ff1010"/>
<path d="M275 234.4V243.45 M273.5 234.4h3 M273.5 243.45h3" stroke="#ff1010" stroke-width="1" stroke-dasharray="1,1" fill="none"/>
<polygon points="275,235.2 277.3,238.4 275,241.6 272.7,238.4" fill="#ff1010"/>
<path d="M282.83 228.12V236.36 M281.33 228.12h3 M281.33 236.36h3" stroke="#ff1010" stroke-width="1" stroke-dasharray="1,1" fill="none"/>
<polygon points="282.83,228.6 285.13,231.8 282.83,235 280.53,231.8" fill="#ff1010"/>
<path d="M290.65 244.68V257.07 M289.15 244.68h3 M289.15 257.07h3" stroke="#ff1010" stroke-width="1" stroke-dasharray="1,1" fill="none"/>
<polygon points="290.65,246.7 292.95,249.9 290.65,253.1 288.35,249.9" fill="#ff1010"/>
<path d="M298.48 237.69V247.56 M296.98 237.69h3 M296.98 247.56h3" stroke="#ff1010" stroke-width="1" stroke-dasharray="1,1" fill="none"/>
<polygon points="298.48,238.8 300.78,242 298.48,245.2 296.18,242" fill="#ff1010"/>
<path d="M306.31 232.12V240.36 M304.81 232.12h3 M304.81 240.36h3" stroke="#ff1010" stroke-width="1" stroke-dasharray="1,1" fill="none"/>
<polygon points="306.31,232.6 308.61,235.8 306.31,239 304.01,235.8" fill="#ff1010"/>
<path d="M314.14 242.63V254.59 M312.64 242.63h3 M312.64 254.59h3" stroke="#ff1010" stroke-width="1" stroke-dasharray="1,1" fill="none"/>
<polygon points="314.14,244.5 316.44,247.7 314.14,250.9 311.84,247.7" fill="#ff1010"/>
<path d="M321.97 248.49V261.74 M320.47 248.49h3 M320.47 261.74h3" stroke="#ff1010" stroke-width="1" stroke-dasharray="1,1" fill="none"/>
<polygon points="321.97,250.8 324.27,254 321.97,257.2 319.67,254" fill="#ff1010"/>
<path d="M329.79 246.29V259.54 M328.29 246.29h3 M328.29 259.54h3" stroke="#ff1010" stroke-width="1" stroke-dasharray="1,1" fill="none"/>
<polygon points="329.79,248.6 332.09,251.8 329.79,255 327.49,251.8" fill="#ff1010"/>
<path d="M337.62 264.13V288.03 M336.12 264.13h3 M336.12 288.03h3" stroke="#ff1010" stroke-width="1" stroke-dasharray="1,1" fill="none"/>
<polygon points="337.62,269.4 339.92,272.6 337.62,275.8 335.32,272.6" fill="#ff1010"/>
<path d="M345.45 255.92V274.65 M343.95 255.92h3 M343.95 274.65h3" stroke="#ff1010" stroke-width="1" stroke-dasharray="1,1" fill="none"/>
<polygon points="345.45,259.9 347.75,263.1 345.45,266.3 343.15,263.1" fill="#ff1010"/>
<path d="M353.28 250.58V266.04 M351.78 250.58h3 M351.78 266.04h3" stroke="#ff1010" stroke-width="1" stroke-dasharray="1,1" fill="none"/>
<polygon points="353.28,253.6 355.58,256.8 353.28,260 350.98,256.8" fill="#ff1010"/>
<path d="M361.11 243.24V256.93 M359.61 243.24h3 M359.61 256.93h3" stroke="#ff1010" stroke-width="1" stroke-dasharray="1,1" fill="none"/>
<polygon points="361.11,245.7 363.41,248.9 361.11,252.1 358.81,248.9" fill="#ff1010"/>
</g>
<polyline points="59.73,443 75.38,400.3 91.04,397.1 106.7,403.9 122.35,406.7 134.09,416.3 141.92,428.1 149.75,444.1 157.58,454.1 165.41,462.6 173.23,470.8 181.06,485" fill="none" stroke="#ff1010" stroke-width="1.0" stroke-dasharray="1.2,0.9" clip-path="url(#cr)"/>
<polyline points="59.73,392.5 75.38,393.9 91.04,393.9 106.7,393.9 122.35,384.4 134.09,378.2 141.92,377.4 149.75,382 157.58,384.3 165.41,380.8 173.23,379 181.06,385 188.89,389.2 196.72,380 204.55,397.2 212.37,394.6 220.2,387.3 228.03,391.5 235.86,398 243.69,399.5 251.51,397.4 259.34,395.9 267.17,402 275,403 282.83,404.1 290.65,396.5 298.48,407.2 306.31,408.7 314.14,413.3 321.97,410.8 329.79,424 337.62,420.9 345.45,426.1 353.28,430.1 361.11,414.8" fill="none" stroke="#ff8080" stroke-width="1.2" clip-path="url(#cr)"/>
<polyline points="59.73,404.1 75.38,382.1 91.04,375.6 106.7,372 122.35,372 134.09,367.5 141.92,372.8 149.75,375.4 157.58,375.4 165.41,381 173.23,382.4 181.06,393 188.89,396 196.72,403 204.55,399.2 212.37,400.3 220.2,400 228.03,407.2 235.86,398.9 243.69,415.4 251.51,405.6 259.34,399.5 267.17,410.5 275,407.8 282.83,396.5 290.65,396.5 298.48,390.4 306.31,399.5 314.14,400.5 321.97,404.1 329.79,391.3 337.62,396.5 345.45,398 353.28,395.6 361.11,402.6" fill="none" stroke="#2e900c" stroke-width="1.2" stroke-dasharray="3,2.5" clip-path="url(#cr)"/>
<polyline points="59.73,410.2 75.38,382.1 91.04,377.7 106.7,376.6 122.35,374.5 134.09,367.9 141.92,369.8 149.75,375.9 157.58,369.3 165.41,369 173.23,363.3 181.06,371.4 188.89,364.1 196.72,372.1 204.55,367.8 212.37,362.5 220.2,364.8 228.03,358 235.86,367.5 243.69,370.5 251.51,367.5 259.34,367.5 267.17,368.7 275,368.7 282.83,362.9 290.65,362.9 298.48,361.4 306.31,376 314.14,371.5 321.97,374.5 329.79,377.3 337.62,381.2 345.45,385.2 353.28,385.8 361.11,388.9" fill="none" stroke="#a00030" stroke-width="1.2" clip-path="url(#cr)"/>
<polyline points="59.73,389.9 75.38,384.8 91.04,388.4 106.7,390.5 122.35,393.3 134.09,391.1 141.92,388.5 149.75,392.7 157.58,393.4 165.41,395 173.23,388.5 181.06,388.9 188.89,385.5 196.72,388.1 204.55,384.3 212.37,385.5 220.2,382.4 228.03,374.3 235.86,376 243.69,381.2 251.51,378.2 259.34,369.9 267.17,384.5 275,376 282.83,375.1 290.65,385.2 298.48,382.7 306.31,376.6 314.14,387.3 321.97,382.7 329.79,388.9 337.62,385.2 345.45,395.9 353.28,402.6 361.11,399.5" fill="none" stroke="#0000f5" stroke-width="1.2" clip-path="url(#cr)"/>
<g clip-path="url(#cr)">
<path d="M134.09 375.65V375.4 M134.09 381V380.75 M132.59 375.65h3 M132.59 380.75h3" stroke="#ff8080" stroke-width="1.1" fill="none"/>
<path d="M141.92 374.75V374.6 M141.92 380.2V380.05 M140.42 374.75h3 M140.42 380.05h3" stroke="#ff8080" stroke-width="1.1" fill="none"/>
<path d="M149.75 379.25V379.2 M149.75 384.8V384.75 M148.25 379.25h3 M148.25 384.75h3" stroke="#ff8080" stroke-width="1.1" fill="none"/>
<path d="M157.58 381.45V381.5 M157.58 387.1V387.15 M156.08 381.45h3 M156.08 387.15h3" stroke="#ff8080" stroke-width="1.1" fill="none"/>
<path d="M165.41 377.85V378 M165.41 383.6V383.75 M163.91 377.85h3 M163.91 383.75h3" stroke="#ff8080" stroke-width="1.1" fill="none"/>
<path d="M173.23 375.95V376.2 M173.23 381.8V382.05 M171.73 375.95h3 M171.73 382.05h3" stroke="#ff8080" stroke-width="1.1" fill="none"/>
<path d="M181.06 381.85V382.2 M181.06 387.8V388.15 M179.56 381.85h3 M179.56 388.15h3" stroke="#ff8080" stroke-width="1.1" fill="none"/>
<path d="M188.89 385.95V386.4 M188.89 392V392.45 M187.39 385.95h3 M187.39 392.45h3" stroke="#ff8080" stroke-width="1.1" fill="none"/>
<path d="M196.72 376.65V377.2 M196.72 382.8V383.35 M195.22 376.65h3 M195.22 383.35h3" stroke="#ff8080" stroke-width="1.1" fill="none"/>
<path d="M204.55 393.75V394.4 M204.55 400V400.65 M203.05 393.75h3 M203.05 400.65h3" stroke="#ff8080" stroke-width="1.1" fill="none"/>
<path d="M212.37 391.05V391.8 M212.37 397.4V398.15 M210.87 391.05h3 M210.87 398.15h3" stroke="#ff8080" stroke-width="1.1" fill="none"/>
<path d="M220.2 383.65V384.5 M220.2 390.1V390.95 M218.7 383.65h3 M218.7 390.95h3" stroke="#ff8080" stroke-width="1.1" fill="none"/>
<path d="M228.03 387.75V388.7 M228.03 394.3V395.25 M226.53 387.75h3 M226.53 395.25h3" stroke="#ff8080" stroke-width="1.1" fill="none"/>
<path d="M235.86 394.15V395.2 M235.86 400.8V401.85 M234.36 394.15h3 M234.36 401.85h3" stroke="#ff8080" stroke-width="1.1" fill="none"/>
<path d="M243.69 395.55V396.7 M243.69 402.3V403.45 M242.19 395.55h3 M242.19 403.45h3" stroke="#ff8080" stroke-width="1.1" fill="none"/>
<path d="M251.51 393.35V394.6 M251.51 400.2V401.45 M250.01 393.35h3 M250.01 401.45h3" stroke="#ff8080" stroke-width="1.1" fill="none"/>
<path d="M259.34 391.75V393.1 M259.34 398.7V400.05 M257.84 391.75h3 M257.84 400.05h3" stroke="#ff8080" stroke-width="1.1" fill="none"/>
<path d="M267.17 397.75V399.2 M267.17 404.8V406.25 M265.67 397.75h3 M265.67 406.25h3" stroke="#ff8080" stroke-width="1.1" fill="none"/>
<path d="M275 398.65V400.2 M275 405.8V407.35 M273.5 398.65h3 M273.5 407.35h3" stroke="#ff8080" stroke-width="1.1" fill="none"/>
<path d="M282.83 399.65V401.3 M282.83 406.9V408.55 M281.33 399.65h3 M281.33 408.55h3" stroke="#ff8080" stroke-width="1.1" fill="none"/>
<path d="M290.65 391.95V393.7 M290.65 399.3V401.05 M289.15 391.95h3 M289.15 401.05h3" stroke="#ff8080" stroke-width="1.1" fill="none"/>
<path d="M298.48 402.55V404.4 M298.48 410V411.85 M296.98 402.55h3 M296.98 411.85h3" stroke="#ff8080" stroke-width="1.1" fill="none"/>
<path d="M306.31 403.95V405.9 M306.31 411.5V413.45 M304.81 403.95h3 M304.81 413.45h3" stroke="#ff8080" stroke-width="1.1" fill="none"/>
<path d="M314.14 408.45V410.5 M314.14 416.1V418.15 M312.64 408.45h3 M312.64 418.15h3" stroke="#ff8080" stroke-width="1.1" fill="none"/>
<path d="M321.97 405.85V408 M321.97 413.6V415.75 M320.47 405.85h3 M320.47 415.75h3" stroke="#ff8080" stroke-width="1.1" fill="none"/>
<path d="M329.79 418.95V421.2 M329.79 426.8V429.05 M328.29 418.95h3 M328.29 429.05h3" stroke="#ff8080" stroke-width="1.1" fill="none"/>
<path d="M337.62 415.75V418.1 M337.62 423.7V426.05 M336.12 415.75h3 M336.12 426.05h3" stroke="#ff8080" stroke-width="1.1" fill="none"/>
<path d="M345.45 420.85V423.3 M345.45 428.9V431.35 M343.95 420.85h3 M343.95 431.35h3" stroke="#ff8080" stroke-width="1.1" fill="none"/>
<path d="M353.28 424.75V427.3 M353.28 432.9V435.45 M351.78 424.75h3 M351.78 435.45h3" stroke="#ff8080" stroke-width="1.1" fill="none"/>
<path d="M361.11 409.35V412 M361.11 417.6V420.25 M359.61 409.35h3 M359.61 420.25h3" stroke="#ff8080" stroke-width="1.1" fill="none"/>
<path d="M134.09 364.95V364.7 M134.09 370.3V370.05 M132.59 364.95h3 M132.59 370.05h3" stroke="#2e900c" stroke-width="1.1" fill="none"/>
<path d="M141.92 370.15V370 M141.92 375.6V375.45 M140.42 370.15h3 M140.42 375.45h3" stroke="#2e900c" stroke-width="1.1" fill="none"/>
<path d="M149.75 372.65V372.6 M149.75 378.2V378.15 M148.25 372.65h3 M148.25 378.15h3" stroke="#2e900c" stroke-width="1.1" fill="none"/>
<path d="M157.58 372.55V372.6 M157.58 378.2V378.25 M156.08 372.55h3 M156.08 378.25h3" stroke="#2e900c" stroke-width="1.1" fill="none"/>
<path d="M165.41 378.05V378.2 M165.41 383.8V383.95 M163.91 378.05h3 M163.91 383.95h3" stroke="#2e900c" stroke-width="1.1" fill="none"/>
<path d="M173.23 379.35V379.6 M173.23 385.2V385.45 M171.73 379.35h3 M171.73 385.45h3" stroke="#2e900c" stroke-width="1.1" fill="none"/>
<path d="M181.06 389.85V390.2 M181.06 395.8V396.15 M179.56 389.85h3 M179.56 396.15h3" stroke="#2e900c" stroke-width="1.1" fill="none"/>
<path d="M188.89 392.75V393.2 M188.89 398.8V399.25 M187.39 392.75h3 M187.39 399.25h3" stroke="#2e900c" stroke-width="1.1" fill="none"/>
<path d="M196.72 399.65V400.2 M196.72 405.8V406.35 M195.22 399.65h3 M195.22 406.35h3" stroke="#2e900c" stroke-width="1.1" fill="none"/>
<path d="M204.55 395.75V396.4 M204.55 402V402.65 M203.05 395.75h3 M203.05 402.65h3" stroke="#2e900c" stroke-width="1.1" fill="none"/>
<path d="M212.37 396.75V397.5 M212.37 403.1V403.85 M210.87 396.75h3 M210.87 403.85h3" stroke="#2e900c" stroke-width="1.1" fill="none"/>
<path d="M220.2 396.35V397.2 M220.2 402.8V403.65 M218.7 396.35h3 M218.7 403.65h3" stroke="#2e900c" stroke-width="1.1" fill="none"/>
<path d="M228.03 403.45V404.4 M228.03 410V410.95 M226.53 403.45h3 M226.53 410.95h3" stroke="#2e900c" stroke-width="1.1" fill="none"/>
<path d="M235.86 395.05V396.1 M235.86 401.7V402.75 M234.36 395.05h3 M234.36 402.75h3" stroke="#2e900c" stroke-width="1.1" fill="none"/>
<path d="M243.69 411.45V412.6 M243.69 418.2V419.35 M242.19 411.45h3 M242.19 419.35h3" stroke="#2e900c" stroke-width="1.1" fill="none"/>
<path d="M251.51 401.55V402.8 M251.51 408.4V409.65 M250.01 401.55h3 M250.01 409.65h3" stroke="#2e900c" stroke-width="1.1" fill="none"/>
<path d="M259.34 395.35V396.7 M259.34 402.3V403.65 M257.84 395.35h3 M257.84 403.65h3" stroke="#2e900c" stroke-width="1.1" fill="none"/>
<path d="M267.17 406.25V407.7 M267.17 413.3V414.75 M265.67 406.25h3 M265.67 414.75h3" stroke="#2e900c" stroke-width="1.1" fill="none"/>
<path d="M275 403.45V405 M275 410.6V412.15 M273.5 403.45h3 M273.5 412.15h3" stroke="#2e900c" stroke-width="1.1" fill="none"/>
<path d="M282.83 392.05V393.7 M282.83 399.3V400.95 M281.33 392.05h3 M281.33 400.95h3" stroke="#2e900c" stroke-width="1.1" fill="none"/>
<path d="M290.65 391.95V393.7 M290.65 399.3V401.05 M289.15 391.95h3 M289.15 401.05h3" stroke="#2e900c" stroke-width="1.1" fill="none"/>
<path d="M298.48 385.75V387.6 M298.48 393.2V395.05 M296.98 385.75h3 M296.98 395.05h3" stroke="#2e900c" stroke-width="1.1" fill="none"/>
<path d="M306.31 394.75V396.7 M306.31 402.3V404.25 M304.81 394.75h3 M304.81 404.25h3" stroke="#2e900c" stroke-width="1.1" fill="none"/>
<path d="M314.14 395.65V397.7 M314.14 403.3V405.35 M312.64 395.65h3 M312.64 405.35h3" stroke="#2e900c" stroke-width="1.1" fill="none"/>
<path d="M321.97 399.15V401.3 M321.97 406.9V409.05 M320.47 399.15h3 M320.47 409.05h3" stroke="#2e900c" stroke-width="1.1" fill="none"/>
<path d="M329.79 386.25V388.5 M329.79 394.1V396.35 M328.29 386.25h3 M328.29 396.35h3" stroke="#2e900c" stroke-width="1.1" fill="none"/>
<path d="M337.62 391.35V393.7 M337.62 399.3V401.65 M336.12 391.35h3 M336.12 401.65h3" stroke="#2e900c" stroke-width="1.1" fill="none"/>
<path d="M345.45 392.75V395.2 M345.45 400.8V403.25 M343.95 392.75h3 M343.95 403.25h3" stroke="#2e900c" stroke-width="1.1" fill="none"/>
<path d="M353.28 390.25V392.8 M353.28 398.4V400.95 M351.78 390.25h3 M351.78 400.95h3" stroke="#2e900c" stroke-width="1.1" fill="none"/>
<path d="M361.11 397.15V399.8 M361.11 405.4V408.05 M359.61 397.15h3 M359.61 408.05h3" stroke="#2e900c" stroke-width="1.1" fill="none"/>
<path d="M181.06 368.88V368.6 M181.06 374.2V373.92 M179.56 368.88h3 M179.56 373.92h3" stroke="#a00030" stroke-width="1.1" fill="none"/>
<path d="M188.89 361.5V361.3 M188.89 366.9V366.7 M187.39 361.5h3 M187.39 366.7h3" stroke="#a00030" stroke-width="1.1" fill="none"/>
<path d="M196.72 369.42V369.3 M196.72 374.9V374.78 M195.22 369.42h3 M195.22 374.78h3" stroke="#a00030" stroke-width="1.1" fill="none"/>
<path d="M204.55 365.04V365 M204.55 370.6V370.56 M203.05 365.04h3 M203.05 370.56h3" stroke="#a00030" stroke-width="1.1" fill="none"/>
<path d="M212.37 359.66V359.7 M212.37 365.3V365.34 M210.87 359.66h3 M210.87 365.34h3" stroke="#a00030" stroke-width="1.1" fill="none"/>
<path d="M220.2 361.88V362 M220.2 367.6V367.72 M218.7 361.88h3 M218.7 367.72h3" stroke="#a00030" stroke-width="1.1" fill="none"/>
<path d="M228.03 355V355.2 M228.03 360.8V361 M226.53 355h3 M226.53 361h3" stroke="#a00030" stroke-width="1.1" fill="none"/>
<path d="M235.86 364.42V364.7 M235.86 370.3V370.58 M234.36 364.42h3 M234.36 370.58h3" stroke="#a00030" stroke-width="1.1" fill="none"/>
<path d="M243.69 367.34V367.7 M243.69 373.3V373.66 M242.19 367.34h3 M242.19 373.66h3" stroke="#a00030" stroke-width="1.1" fill="none"/>
<path d="M251.51 364.26V364.7 M251.51 370.3V370.74 M250.01 364.26h3 M250.01 370.74h3" stroke="#a00030" stroke-width="1.1" fill="none"/>
<path d="M259.34 364.18V364.7 M259.34 370.3V370.82 M257.84 364.18h3 M257.84 370.82h3" stroke="#a00030" stroke-width="1.1" fill="none"/>
<path d="M267.17 365.3V365.9 M267.17 371.5V372.1 M265.67 365.3h3 M265.67 372.1h3" stroke="#a00030" stroke-width="1.1" fill="none"/>
<path d="M275 365.22V365.9 M275 371.5V372.18 M273.5 365.22h3 M273.5 372.18h3" stroke="#a00030" stroke-width="1.1" fill="none"/>
<path d="M282.83 359.34V360.1 M282.83 365.7V366.46 M281.33 359.34h3 M281.33 366.46h3" stroke="#a00030" stroke-width="1.1" fill="none"/>
<path d="M290.65 359.26V360.1 M290.65 365.7V366.54 M289.15 359.26h3 M289.15 366.54h3" stroke="#a00030" stroke-width="1.1" fill="none"/>
<path d="M298.48 357.68V358.6 M298.48 364.2V365.12 M296.98 357.68h3 M296.98 365.12h3" stroke="#a00030" stroke-width="1.1" fill="none"/>
<path d="M306.31 372.2V373.2 M306.31 378.8V379.8 M304.81 372.2h3 M304.81 379.8h3" stroke="#a00030" stroke-width="1.1" fill="none"/>
<path d="M314.14 367.62V368.7 M314.14 374.3V375.38 M312.64 367.62h3 M312.64 375.38h3" stroke="#a00030" stroke-width="1.1" fill="none"/>
<path d="M321.97 370.54V371.7 M321.97 377.3V378.46 M320.47 370.54h3 M320.47 378.46h3" stroke="#a00030" stroke-width="1.1" fill="none"/>
<path d="M329.79 373.26V374.5 M329.79 380.1V381.34 M328.29 373.26h3 M328.29 381.34h3" stroke="#a00030" stroke-width="1.1" fill="none"/>
<path d="M337.62 377.08V378.4 M337.62 384V385.32 M336.12 377.08h3 M336.12 385.32h3" stroke="#a00030" stroke-width="1.1" fill="none"/>
<path d="M345.45 381V382.4 M345.45 388V389.4 M343.95 381h3 M343.95 389.4h3" stroke="#a00030" stroke-width="1.1" fill="none"/>
<path d="M353.28 381.52V383 M353.28 388.6V390.08 M351.78 381.52h3 M351.78 390.08h3" stroke="#a00030" stroke-width="1.1" fill="none"/>
<path d="M361.11 384.54V386.1 M361.11 391.7V393.26 M359.61 384.54h3 M359.61 393.26h3" stroke="#a00030" stroke-width="1.1" fill="none"/>
<path d="M134.09 388.55V388.3 M134.09 393.9V393.65 M132.59 388.55h3 M132.59 393.65h3" stroke="#0000f5" stroke-width="1.1" fill="none"/>
<path d="M141.92 385.85V385.7 M141.92 391.3V391.15 M140.42 385.85h3 M140.42 391.15h3" stroke="#0000f5" stroke-width="1.1" fill="none"/>
<path d="M149.75 389.95V389.9 M149.75 395.5V395.45 M148.25 389.95h3 M148.25 395.45h3" stroke="#0000f5" stroke-width="1.1" fill="none"/>
<path d="M157.58 390.55V390.6 M157.58 396.2V396.25 M156.08 390.55h3 M156.08 396.25h3" stroke="#0000f5" stroke-width="1.1" fill="none"/>
<path d="M165.41 392.05V392.2 M165.41 397.8V397.95 M163.91 392.05h3 M163.91 397.95h3" stroke="#0000f5" stroke-width="1.1" fill="none"/>
<path d="M173.23 385.45V385.7 M173.23 391.3V391.55 M171.73 385.45h3 M171.73 391.55h3" stroke="#0000f5" stroke-width="1.1" fill="none"/>
<path d="M181.06 385.75V386.1 M181.06 391.7V392.05 M179.56 385.75h3 M179.56 392.05h3" stroke="#0000f5" stroke-width="1.1" fill="none"/>
<path d="M188.89 382.25V382.7 M188.89 388.3V388.75 M187.39 382.25h3 M187.39 388.75h3" stroke="#0000f5" stroke-width="1.1" fill="none"/>
<path d="M196.72 384.75V385.3 M196.72 390.9V391.45 M195.22 384.75h3 M195.22 391.45h3" stroke="#0000f5" stroke-width="1.1" fill="none"/>
<path d="M204.55 380.85V381.5 M204.55 387.1V387.75 M203.05 380.85h3 M203.05 387.75h3" stroke="#0000f5" stroke-width="1.1" fill="none"/>
<path d="M212.37 381.95V382.7 M212.37 388.3V389.05 M210.87 381.95h3 M210.87 389.05h3" stroke="#0000f5" stroke-width="1.1" fill="none"/>
<path d="M220.2 378.75V379.6 M220.2 385.2V386.05 M218.7 378.75h3 M218.7 386.05h3" stroke="#0000f5" stroke-width="1.1" fill="none"/>
<path d="M228.03 370.55V371.5 M228.03 377.1V378.05 M226.53 370.55h3 M226.53 378.05h3" stroke="#0000f5" stroke-width="1.1" fill="none"/>
<path d="M235.86 372.15V373.2 M235.86 378.8V379.85 M234.36 372.15h3 M234.36 379.85h3" stroke="#0000f5" stroke-width="1.1" fill="none"/>
<path d="M243.69 377.25V378.4 M243.69 384V385.15 M242.19 377.25h3 M242.19 385.15h3" stroke="#0000f5" stroke-width="1.1" fill="none"/>
<path d="M251.51 374.15V375.4 M251.51 381V382.25 M250.01 374.15h3 M250.01 382.25h3" stroke="#0000f5" stroke-width="1.1" fill="none"/>
<path d="M259.34 365.75V367.1 M259.34 372.7V374.05 M257.84 365.75h3 M257.84 374.05h3" stroke="#0000f5" stroke-width="1.1" fill="none"/>
<path d="M267.17 380.25V381.7 M267.17 387.3V388.75 M265.67 380.25h3 M265.67 388.75h3" stroke="#0000f5" stroke-width="1.1" fill="none"/>
<path d="M275 371.65V373.2 M275 378.8V380.35 M273.5 371.65h3 M273.5 380.35h3" stroke="#0000f5" stroke-width="1.1" fill="none"/>
<path d="M282.83 370.65V372.3 M282.83 377.9V379.55 M281.33 370.65h3 M281.33 379.55h3" stroke="#0000f5" stroke-width="1.1" fill="none"/>
<path d="M290.65 380.65V382.4 M290.65 388V389.75 M289.15 380.65h3 M289.15 389.75h3" stroke="#0000f5" stroke-width="1.1" fill="none"/>
<path d="M298.48 378.05V379.9 M298.48 385.5V387.35 M296.98 378.05h3 M296.98 387.35h3" stroke="#0000f5" stroke-width="1.1" fill="none"/>
<path d="M306.31 371.85V373.8 M306.31 379.4V381.35 M304.81 371.85h3 M304.81 381.35h3" stroke="#0000f5" stroke-width="1.1" fill="none"/>
<path d="M314.14 382.45V384.5 M314.14 390.1V392.15 M312.64 382.45h3 M312.64 392.15h3" stroke="#0000f5" stroke-width="1.1" fill="none"/>
<path d="M321.97 377.75V379.9 M321.97 385.5V387.65 M320.47 377.75h3 M320.47 387.65h3" stroke="#0000f5" stroke-width="1.1" fill="none"/>
<path d="M329.79 383.85V386.1 M329.79 391.7V393.95 M328.29 383.85h3 M328.29 393.95h3" stroke="#0000f5" stroke-width="1.1" fill="none"/>
<path d="M337.62 380.05V382.4 M337.62 388V390.35 M336.12 380.05h3 M336.12 390.35h3" stroke="#0000f5" stroke-width="1.1" fill="none"/>
<path d="M345.45 390.65V393.1 M345.45 398.7V401.15 M343.95 390.65h3 M343.95 401.15h3" stroke="#0000f5" stroke-width="1.1" fill="none"/>
<path d="M353.28 397.25V399.8 M353.28 405.4V407.95 M351.78 397.25h3 M351.78 407.95h3" stroke="#0000f5" stroke-width="1.1" fill="none"/>
<path d="M361.11 394.05V396.7 M361.11 402.3V404.95 M359.61 394.05h3 M359.61 404.95h3" stroke="#0000f5" stroke-width="1.1" fill="none"/>
<circle cx="59.73" cy="392.5" r="2.3" fill="#ff8080"/><circle cx="59.73" cy="392.5" r="0.9" fill="#ffc0c0"/>
<circle cx="75.38" cy="393.9" r="2.3" fill="#ff8080"/><circle cx="75.38" cy="393.9" r="0.9" fill="#ffc0c0"/>
<circle cx="91.04" cy="393.9" r="2.3" fill="#ff8080"/><circle cx="91.04" cy="393.9" r="0.9" fill="#ffc0c0"/>
<circle cx="106.7" cy="393.9" r="2.3" fill="#ff8080"/><circle cx="106.7" cy="393.9" r="0.9" fill="#ffc0c0"/>
<circle cx="122.35" cy="384.4" r="2.3" fill="#ff8080"/><circle cx="122.35" cy="384.4" r="0.9" fill="#ffc0c0"/>
<circle cx="134.09" cy="378.2" r="2.3" fill="#ff8080"/><circle cx="134.09" cy="378.2" r="0.9" fill="#ffc0c0"/>
<circle cx="141.92" cy="377.4" r="2.3" fill="#ff8080"/><circle cx="141.92" cy="377.4" r="0.9" fill="#ffc0c0"/>
<circle cx="149.75" cy="382" r="2.3" fill="#ff8080"/><circle cx="149.75" cy="382" r="0.9" fill="#ffc0c0"/>
<circle cx="157.58" cy="384.3" r="2.3" fill="#ff8080"/><circle cx="157.58" cy="384.3" r="0.9" fill="#ffc0c0"/>
<circle cx="165.41" cy="380.8" r="2.3" fill="#ff8080"/><circle cx="165.41" cy="380.8" r="0.9" fill="#ffc0c0"/>
<circle cx="173.23" cy="379" r="2.3" fill="#ff8080"/><circle cx="173.23" cy="379" r="0.9" fill="#ffc0c0"/>
<circle cx="181.06" cy="385" r="2.3" fill="#ff8080"/><circle cx="181.06" cy="385" r="0.9" fill="#ffc0c0"/>
<circle cx="188.89" cy="389.2" r="2.3" fill="#ff8080"/><circle cx="188.89" cy="389.2" r="0.9" fill="#ffc0c0"/>
<circle cx="196.72" cy="380" r="2.3" fill="#ff8080"/><circle cx="196.72" cy="380" r="0.9" fill="#ffc0c0"/>
<circle cx="204.55" cy="397.2" r="2.3" fill="#ff8080"/><circle cx="204.55" cy="397.2" r="0.9" fill="#ffc0c0"/>
<circle cx="212.37" cy="394.6" r="2.3" fill="#ff8080"/><circle cx="212.37" cy="394.6" r="0.9" fill="#ffc0c0"/>
<circle cx="220.2" cy="387.3" r="2.3" fill="#ff8080"/><circle cx="220.2" cy="387.3" r="0.9" fill="#ffc0c0"/>
<circle cx="228.03" cy="391.5" r="2.3" fill="#ff8080"/><circle cx="228.03" cy="391.5" r="0.9" fill="#ffc0c0"/>
<circle cx="235.86" cy="398" r="2.3" fill="#ff8080"/><circle cx="235.86" cy="398" r="0.9" fill="#ffc0c0"/>
<circle cx="243.69" cy="399.5" r="2.3" fill="#ff8080"/><circle cx="243.69" cy="399.5" r="0.9" fill="#ffc0c0"/>
<circle cx="251.51" cy="397.4" r="2.3" fill="#ff8080"/><circle cx="251.51" cy="397.4" r="0.9" fill="#ffc0c0"/>
<circle cx="259.34" cy="395.9" r="2.3" fill="#ff8080"/><circle cx="259.34" cy="395.9" r="0.9" fill="#ffc0c0"/>
<circle cx="267.17" cy="402" r="2.3" fill="#ff8080"/><circle cx="267.17" cy="402" r="0.9" fill="#ffc0c0"/>
<circle cx="275" cy="403" r="2.3" fill="#ff8080"/><circle cx="275" cy="403" r="0.9" fill="#ffc0c0"/>
<circle cx="282.83" cy="404.1" r="2.3" fill="#ff8080"/><circle cx="282.83" cy="404.1" r="0.9" fill="#ffc0c0"/>
<circle cx="290.65" cy="396.5" r="2.3" fill="#ff8080"/><circle cx="290.65" cy="396.5" r="0.9" fill="#ffc0c0"/>
<circle cx="298.48" cy="407.2" r="2.3" fill="#ff8080"/><circle cx="298.48" cy="407.2" r="0.9" fill="#ffc0c0"/>
<circle cx="306.31" cy="408.7" r="2.3" fill="#ff8080"/><circle cx="306.31" cy="408.7" r="0.9" fill="#ffc0c0"/>
<circle cx="314.14" cy="413.3" r="2.3" fill="#ff8080"/><circle cx="314.14" cy="413.3" r="0.9" fill="#ffc0c0"/>
<circle cx="321.97" cy="410.8" r="2.3" fill="#ff8080"/><circle cx="321.97" cy="410.8" r="0.9" fill="#ffc0c0"/>
<circle cx="329.79" cy="424" r="2.3" fill="#ff8080"/><circle cx="329.79" cy="424" r="0.9" fill="#ffc0c0"/>
<circle cx="337.62" cy="420.9" r="2.3" fill="#ff8080"/><circle cx="337.62" cy="420.9" r="0.9" fill="#ffc0c0"/>
<circle cx="345.45" cy="426.1" r="2.3" fill="#ff8080"/><circle cx="345.45" cy="426.1" r="0.9" fill="#ffc0c0"/>
<circle cx="353.28" cy="430.1" r="2.3" fill="#ff8080"/><circle cx="353.28" cy="430.1" r="0.9" fill="#ffc0c0"/>
<circle cx="361.11" cy="414.8" r="2.3" fill="#ff8080"/><circle cx="361.11" cy="414.8" r="0.9" fill="#ffc0c0"/>
<rect x="57.28" y="401.65" width="4.9" height="4.9" fill="none" stroke="#2e900c" stroke-width="1.1"/>
<rect x="72.93" y="379.65" width="4.9" height="4.9" fill="none" stroke="#2e900c" stroke-width="1.1"/>
<rect x="88.59" y="373.15" width="4.9" height="4.9" fill="none" stroke="#2e900c" stroke-width="1.1"/>
<rect x="104.25" y="369.55" width="4.9" height="4.9" fill="none" stroke="#2e900c" stroke-width="1.1"/>
<rect x="119.9" y="369.55" width="4.9" height="4.9" fill="none" stroke="#2e900c" stroke-width="1.1"/>
<rect x="131.64" y="365.05" width="4.9" height="4.9" fill="none" stroke="#2e900c" stroke-width="1.1"/>
<rect x="139.47" y="370.35" width="4.9" height="4.9" fill="none" stroke="#2e900c" stroke-width="1.1"/>
<rect x="147.3" y="372.95" width="4.9" height="4.9" fill="none" stroke="#2e900c" stroke-width="1.1"/>
<rect x="155.13" y="372.95" width="4.9" height="4.9" fill="none" stroke="#2e900c" stroke-width="1.1"/>
<rect x="162.96" y="378.55" width="4.9" height="4.9" fill="none" stroke="#2e900c" stroke-width="1.1"/>
<rect x="170.78" y="379.95" width="4.9" height="4.9" fill="none" stroke="#2e900c" stroke-width="1.1"/>
<rect x="178.61" y="390.55" width="4.9" height="4.9" fill="none" stroke="#2e900c" stroke-width="1.1"/>
<rect x="186.44" y="393.55" width="4.9" height="4.9" fill="none" stroke="#2e900c" stroke-width="1.1"/>
<rect x="194.27" y="400.55" width="4.9" height="4.9" fill="none" stroke="#2e900c" stroke-width="1.1"/>
<rect x="202.1" y="396.75" width="4.9" height="4.9" fill="none" stroke="#2e900c" stroke-width="1.1"/>
<rect x="209.92" y="397.85" width="4.9" height="4.9" fill="none" stroke="#2e900c" stroke-width="1.1"/>
<rect x="217.75" y="397.55" width="4.9" height="4.9" fill="none" stroke="#2e900c" stroke-width="1.1"/>
<rect x="225.58" y="404.75" width="4.9" height="4.9" fill="none" stroke="#2e900c" stroke-width="1.1"/>
<rect x="233.41" y="396.45" width="4.9" height="4.9" fill="none" stroke="#2e900c" stroke-width="1.1"/>
<rect x="241.24" y="412.95" width="4.9" height="4.9" fill="none" stroke="#2e900c" stroke-width="1.1"/>
<rect x="249.06" y="403.15" width="4.9" height="4.9" fill="none" stroke="#2e900c" stroke-width="1.1"/>
<rect x="256.89" y="397.05" width="4.9" height="4.9" fill="none" stroke="#2e900c" stroke-width="1.1"/>
<rect x="264.72" y="408.05" width="4.9" height="4.9" fill="none" stroke="#2e900c" stroke-width="1.1"/>
<rect x="272.55" y="405.35" width="4.9" height="4.9" fill="none" stroke="#2e900c" stroke-width="1.1"/>
<rect x="280.38" y="394.05" width="4.9" height="4.9" fill="none" stroke="#2e900c" stroke-width="1.1"/>
<rect x="288.2" y="394.05" width="4.9" height="4.9" fill="none" stroke="#2e900c" stroke-width="1.1"/>
<rect x="296.03" y="387.95" width="4.9" height="4.9" fill="none" stroke="#2e900c" stroke-width="1.1"/>
<rect x="303.86" y="397.05" width="4.9" height="4.9" fill="none" stroke="#2e900c" stroke-width="1.1"/>
<rect x="311.69" y="398.05" width="4.9" height="4.9" fill="none" stroke="#2e900c" stroke-width="1.1"/>
<rect x="319.52" y="401.65" width="4.9" height="4.9" fill="none" stroke="#2e900c" stroke-width="1.1"/>
<rect x="327.34" y="388.85" width="4.9" height="4.9" fill="none" stroke="#2e900c" stroke-width="1.1"/>
<rect x="335.17" y="394.05" width="4.9" height="4.9" fill="none" stroke="#2e900c" stroke-width="1.1"/>
<rect x="343" y="395.55" width="4.9" height="4.9" fill="none" stroke="#2e900c" stroke-width="1.1"/>
<rect x="350.83" y="393.15" width="4.9" height="4.9" fill="none" stroke="#2e900c" stroke-width="1.1"/>
<rect x="358.66" y="400.15" width="4.9" height="4.9" fill="none" stroke="#2e900c" stroke-width="1.1"/>
<polygon points="59.73,407.32 56.53,413.08 62.93,413.08" fill="none" stroke="#a00030" stroke-width="1.15"/>
<polygon points="75.38,379.22 72.18,384.98 78.58,384.98" fill="none" stroke="#a00030" stroke-width="1.15"/>
<polygon points="91.04,374.82 87.84,380.58 94.24,380.58" fill="none" stroke="#a00030" stroke-width="1.15"/>
<polygon points="106.7,373.72 103.5,379.48 109.9,379.48" fill="none" stroke="#a00030" stroke-width="1.15"/>
<polygon points="122.35,371.62 119.15,377.38 125.55,377.38" fill="none" stroke="#a00030" stroke-width="1.15"/>
<polygon points="134.09,365.02 130.89,370.78 137.29,370.78" fill="none" stroke="#a00030" stroke-width="1.15"/>
<polygon points="141.92,366.92 138.72,372.68 145.12,372.68" fill="none" stroke="#a00030" stroke-width="1.15"/>
<polygon points="149.75,373.02 146.55,378.78 152.95,378.78" fill="none" stroke="#a00030" stroke-width="1.15"/>
<polygon points="157.58,366.42 154.38,372.18 160.78,372.18" fill="none" stroke="#a00030" stroke-width="1.15"/>
<polygon points="165.41,366.12 162.21,371.88 168.61,371.88" fill="none" stroke="#a00030" stroke-width="1.15"/>
<polygon points="173.23,360.42 170.03,366.18 176.43,366.18" fill="none" stroke="#a00030" stroke-width="1.15"/>
<polygon points="181.06,368.52 177.86,374.28 184.26,374.28" fill="none" stroke="#a00030" stroke-width="1.15"/>
<polygon points="188.89,361.22 185.69,366.98 192.09,366.98" fill="none" stroke="#a00030" stroke-width="1.15"/>
<polygon points="196.72,369.22 193.52,374.98 199.92,374.98" fill="none" stroke="#a00030" stroke-width="1.15"/>
<polygon points="204.55,364.92 201.35,370.68 207.75,370.68" fill="none" stroke="#a00030" stroke-width="1.15"/>
<polygon points="212.37,359.62 209.17,365.38 215.57,365.38" fill="none" stroke="#a00030" stroke-width="1.15"/>
<polygon points="220.2,361.92 217,367.68 223.4,367.68" fill="none" stroke="#a00030" stroke-width="1.15"/>
<polygon points="228.03,355.12 224.83,360.88 231.23,360.88" fill="none" stroke="#a00030" stroke-width="1.15"/>
<polygon points="235.86,364.62 232.66,370.38 239.06,370.38" fill="none" stroke="#a00030" stroke-width="1.15"/>
<polygon points="243.69,367.62 240.49,373.38 246.89,373.38" fill="none" stroke="#a00030" stroke-width="1.15"/>
<polygon points="251.51,364.62 248.31,370.38 254.71,370.38" fill="none" stroke="#a00030" stroke-width="1.15"/>
<polygon points="259.34,364.62 256.14,370.38 262.54,370.38" fill="none" stroke="#a00030" stroke-width="1.15"/>
<polygon points="267.17,365.82 263.97,371.58 270.37,371.58" fill="none" stroke="#a00030" stroke-width="1.15"/>
<polygon points="275,365.82 271.8,371.58 278.2,371.58" fill="none" stroke="#a00030" stroke-width="1.15"/>
<polygon points="282.83,360.02 279.63,365.78 286.03,365.78" fill="none" stroke="#a00030" stroke-width="1.15"/>
<polygon points="290.65,360.02 287.45,365.78 293.85,365.78" fill="none" stroke="#a00030" stroke-width="1.15"/>
<polygon points="298.48,358.52 295.28,364.28 301.68,364.28" fill="none" stroke="#a00030" stroke-width="1.15"/>
<polygon points="306.31,373.12 303.11,378.88 309.51,378.88" fill="none" stroke="#a00030" stroke-width="1.15"/>
<polygon points="314.14,368.62 310.94,374.38 317.34,374.38" fill="none" stroke="#a00030" stroke-width="1.15"/>
<polygon points="321.97,371.62 318.77,377.38 325.17,377.38" fill="none" stroke="#a00030" stroke-width="1.15"/>
<polygon points="329.79,374.42 326.59,380.18 332.99,380.18" fill="none" stroke="#a00030" stroke-width="1.15"/>
<polygon points="337.62,378.32 334.42,384.08 340.82,384.08" fill="none" stroke="#a00030" stroke-width="1.15"/>
<polygon points="345.45,382.32 342.25,388.08 348.65,388.08" fill="none" stroke="#a00030" stroke-width="1.15"/>
<polygon points="353.28,382.92 350.08,388.68 356.48,388.68" fill="none" stroke="#a00030" stroke-width="1.15"/>
<polygon points="361.11,386.02 357.91,391.78 364.31,391.78" fill="none" stroke="#a00030" stroke-width="1.15"/>
<polygon points="59.73,387.2 56.73,392.6 62.73,392.6" fill="#0000f5"/>
<polygon points="75.38,382.1 72.38,387.5 78.38,387.5" fill="#0000f5"/>
<polygon points="91.04,385.7 88.04,391.1 94.04,391.1" fill="#0000f5"/>
<polygon points="106.7,387.8 103.7,393.2 109.7,393.2" fill="#0000f5"/>
<polygon points="122.35,390.6 119.35,396 125.35,396" fill="#0000f5"/>
<polygon points="134.09,388.4 131.09,393.8 137.09,393.8" fill="#0000f5"/>
<polygon points="141.92,385.8 138.92,391.2 144.92,391.2" fill="#0000f5"/>
<polygon points="149.75,390 146.75,395.4 152.75,395.4" fill="#0000f5"/>
<polygon points="157.58,390.7 154.58,396.1 160.58,396.1" fill="#0000f5"/>
<polygon points="165.41,392.3 162.41,397.7 168.41,397.7" fill="#0000f5"/>
<polygon points="173.23,385.8 170.23,391.2 176.23,391.2" fill="#0000f5"/>
<polygon points="181.06,386.2 178.06,391.6 184.06,391.6" fill="#0000f5"/>
<polygon points="188.89,382.8 185.89,388.2 191.89,388.2" fill="#0000f5"/>
<polygon points="196.72,385.4 193.72,390.8 199.72,390.8" fill="#0000f5"/>
<polygon points="204.55,381.6 201.55,387 207.55,387" fill="#0000f5"/>
<polygon points="212.37,382.8 209.37,388.2 215.37,388.2" fill="#0000f5"/>
<polygon points="220.2,379.7 217.2,385.1 223.2,385.1" fill="#0000f5"/>
<polygon points="228.03,371.6 225.03,377 231.03,377" fill="#0000f5"/>
<polygon points="235.86,373.3 232.86,378.7 238.86,378.7" fill="#0000f5"/>
<polygon points="243.69,378.5 240.69,383.9 246.69,383.9" fill="#0000f5"/>
<polygon points="251.51,375.5 248.51,380.9 254.51,380.9" fill="#0000f5"/>
<polygon points="259.34,367.2 256.34,372.6 262.34,372.6" fill="#0000f5"/>
<polygon points="267.17,381.8 264.17,387.2 270.17,387.2" fill="#0000f5"/>
<polygon points="275,373.3 272,378.7 278,378.7" fill="#0000f5"/>
<polygon points="282.83,372.4 279.83,377.8 285.83,377.8" fill="#0000f5"/>
<polygon points="290.65,382.5 287.65,387.9 293.65,387.9" fill="#0000f5"/>
<polygon points="298.48,380 295.48,385.4 301.48,385.4" fill="#0000f5"/>
<polygon points="306.31,373.9 303.31,379.3 309.31,379.3" fill="#0000f5"/>
<polygon points="314.14,384.6 311.14,390 317.14,390" fill="#0000f5"/>
<polygon points="321.97,380 318.97,385.4 324.97,385.4" fill="#0000f5"/>
<polygon points="329.79,386.2 326.79,391.6 332.79,391.6" fill="#0000f5"/>
<polygon points="337.62,382.5 334.62,387.9 340.62,387.9" fill="#0000f5"/>
<polygon points="345.45,393.2 342.45,398.6 348.45,398.6" fill="#0000f5"/>
<polygon points="353.28,399.9 350.28,405.3 356.28,405.3" fill="#0000f5"/>
<polygon points="361.11,396.8 358.11,402.2 364.11,402.2" fill="#0000f5"/>
<polygon points="59.73,439.8 62.03,443 59.73,446.2 57.43,443" fill="#ff1010"/>
<polygon points="75.38,397.1 77.68,400.3 75.38,403.5 73.08,400.3" fill="#ff1010"/>
<polygon points="91.04,393.9 93.34,397.1 91.04,400.3 88.74,397.1" fill="#ff1010"/>
<polygon points="106.7,400.7 109,403.9 106.7,407.1 104.4,403.9" fill="#ff1010"/>
<polygon points="122.35,403.5 124.65,406.7 122.35,409.9 120.05,406.7" fill="#ff1010"/>
<polygon points="134.09,413.1 136.39,416.3 134.09,419.5 131.79,416.3" fill="#ff1010"/>
<polygon points="141.92,424.9 144.22,428.1 141.92,431.3 139.62,428.1" fill="#ff1010"/>
<path d="M149.75 440.1V441.6 M149.75 446.6V448.1 M148.5 440.1h2.5 M148.5 448.1h2.5" stroke="#ff1010" stroke-width="1.0" fill="none"/>
<polygon points="149.75,440.9 152.05,444.1 149.75,447.3 147.45,444.1" fill="#ff1010"/>
<path d="M157.58 450.1V451.6 M157.58 456.6V458.1 M156.33 450.1h2.5 M156.33 458.1h2.5" stroke="#ff1010" stroke-width="1.0" fill="none"/>
<polygon points="157.58,450.9 159.88,454.1 157.58,457.3 155.28,454.1" fill="#ff1010"/>
<path d="M165.41 458.6V460.1 M165.41 465.1V466.6 M164.16 458.6h2.5 M164.16 466.6h2.5" stroke="#ff1010" stroke-width="1.0" fill="none"/>
<polygon points="165.41,459.4 167.71,462.6 165.41,465.8 163.11,462.6" fill="#ff1010"/>
<path d="M173.23 466.8V468.3 M173.23 473.3V474.8 M171.98 466.8h2.5 M171.98 474.8h2.5" stroke="#ff1010" stroke-width="1.0" fill="none"/>
<polygon points="173.23,467.6 175.53,470.8 173.23,474 170.93,470.8" fill="#ff1010"/>
</g>
<rect x="73.65" y="208.25" width="5.5" height="5.5" fill="#000"/>
<line x1="64" y1="223.8" x2="88.7" y2="223.8" stroke="#ff8080" stroke-width="1.1"/>
<line x1="76.4" y1="221.2" x2="76.4" y2="226.4" stroke="#ff8080" stroke-width="1.0"/>
<circle cx="76.4" cy="223.8" r="2.1" fill="#ff8080"/><circle cx="76.4" cy="223.8" r="0.9" fill="#ffc0c0"/>
<line x1="64" y1="236.9" x2="88.7" y2="236.9" stroke="#2e900c" stroke-width="1.2" stroke-dasharray="3,2.5"/>
<rect x="73.95" y="234.45" width="4.9" height="4.9" fill="none" stroke="#2e900c" stroke-width="1.1"/>
<line x1="64" y1="250" x2="88.7" y2="250" stroke="#a00030" stroke-width="1.1"/>
<polygon points="76.4,247.12 73.2,252.88 79.6,252.88" fill="none" stroke="#a00030" stroke-width="1.3"/>
<line x1="64" y1="263.2" x2="88.7" y2="263.2" stroke="#0000f5" stroke-width="1.1"/>
<polygon points="76.4,260.5 73.4,265.9 79.4,265.9" fill="#0000f5"/>
<line x1="64" y1="276.3" x2="88.7" y2="276.3" stroke="#ff1010" stroke-width="1.0" stroke-dasharray="1,1.5"/>
<polygon points="76.4,273.55 78.4,276.3 76.4,279.05 74.4,276.3" fill="#ff1010"/>
<text transform="translate(94.1,213.9)" font-family="Liberation Sans, sans-serif" font-size="9.5">ATLAS</text>
<text transform="translate(94.1,226.7)" font-family="Liberation Sans, sans-serif" font-size="9.5">Epos 1.99.crmc.1.6.0 lhc</text>
<text transform="translate(94.1,239.8)" font-family="Liberation Sans, sans-serif" font-size="9.5">Herwig 7.2.1 default</text>
<text transform="translate(94.1,252.9)" font-family="Liberation Sans, sans-serif" font-size="9.5">Pythia 6.428 370</text>
<text transform="translate(94.1,266.1)" font-family="Liberation Sans, sans-serif" font-size="9.5">Pythia 8.315 default</text>
<text transform="translate(94.1,279.2)" font-family="Liberation Sans, sans-serif" font-size="9.5">Sherpa 2.2.9 default</text>
<text transform="translate(51,13.6) scale(0.97,1)" font-family="Liberation Sans, sans-serif" font-size="12.5">7000 GeV pp</text>
<text transform="translate(366,13.5) scale(0.97,1)" font-family="Liberation Sans, sans-serif" font-size="12.5" text-anchor="end">Soft QCD</text>
<text transform="translate(54.8,40.7) scale(1.02,1)" font-family="Liberation Sans, sans-serif" font-size="11.8">Rapidity gap size in</text>
<text transform="translate(158.8,40.7)" font-family="Liberation Sans, sans-serif" font-size="11.8">&#951;</text>
<text transform="translate(169,40.7) scale(1.03,1)" font-family="Liberation Sans, sans-serif" font-size="11.8">starting</text>
<text transform="translate(212,40.7)" font-family="Liberation Sans, sans-serif" font-size="11.8">from</text>
<text transform="translate(237.2,40.7)" font-family="Liberation Sans, sans-serif" font-size="11.8">&#951;</text>
<text transform="translate(246.3,40.7) scale(1.15,1)" font-family="Liberation Sans, sans-serif" font-size="11.8">=</text>
<text transform="translate(255,40.7) scale(1.2,1)" font-family="Liberation Sans, sans-serif" font-size="11.8">&#177;</text>
<text transform="translate(266.9,40.7)" font-family="Liberation Sans, sans-serif" font-size="11.8">4.9, p</text>
<text transform="translate(296,47.5)" font-family="Liberation Sans, sans-serif" font-size="8.2">T</text>
<text transform="translate(304.1,40.7)" font-family="Liberation Sans, sans-serif" font-size="11.8">&gt;</text>
<text transform="translate(315.6,40.7)" font-family="Liberation Sans, sans-serif" font-size="11.8">400 MeV</text>
<text transform="translate(207.9,302.3)" font-family="Liberation Sans, sans-serif" font-size="8.1" text-anchor="middle" fill="#a8a8a8">(ATLAS_2012_I1084540)</text>
<path transform="translate(22.61,46) scale(0.00509,-0.00547)" d="M515 0V1237L197 1010V1180L530 1409H696V0Z" fill="#000"/>
<text transform="translate(28.41,46) scale(0.93,1)" font-family="Liberation Sans, sans-serif" font-size="11.2">0</text>
<text transform="translate(34.96,41) scale(0.95,1)" font-family="Liberation Sans, sans-serif" font-size="8.4">3</text>
<path transform="translate(22.61,90.5) scale(0.00509,-0.00547)" d="M515 0V1237L197 1010V1180L530 1409H696V0Z" fill="#000"/>
<text transform="translate(28.41,90.5) scale(0.93,1)" font-family="Liberation Sans, sans-serif" font-size="11.2">0</text>
<text transform="translate(34.96,85.5) scale(0.95,1)" font-family="Liberation Sans, sans-serif" font-size="8.4">2</text>
<path transform="translate(21.51,224) scale(0.00509,-0.00547)" d="M515 0V1237L197 1010V1180L530 1409H696V0Z" fill="#000"/>
<text transform="translate(27.31,224) scale(0.93,1)" font-family="Liberation Sans, sans-serif" font-size="11.2">0</text>
<path transform="translate(35.76,219) scale(0.00390,-0.00410)" d="M515 0V1237L197 1010V1180L530 1409H696V0Z" fill="#000"/>
<line x1="33.2" y1="217.1" x2="36.7" y2="217.1" stroke="#000" stroke-width="0.9"/>
<path transform="translate(19.61,268.5) scale(0.00509,-0.00547)" d="M515 0V1237L197 1010V1180L530 1409H696V0Z" fill="#000"/>
<text transform="translate(25.41,268.5) scale(0.93,1)" font-family="Liberation Sans, sans-serif" font-size="11.2">0</text>
<text transform="translate(34.96,263.5) scale(0.95,1)" font-family="Liberation Sans, sans-serif" font-size="8.4">2</text>
<line x1="31.1" y1="261.6" x2="34.5" y2="261.6" stroke="#000" stroke-width="0.9"/>
<path transform="translate(18.51,313) scale(0.00509,-0.00547)" d="M515 0V1237L197 1010V1180L530 1409H696V0Z" fill="#000"/>
<text transform="translate(24.31,313) scale(0.93,1)" font-family="Liberation Sans, sans-serif" font-size="11.2">0</text>
<text transform="translate(34.96,308) scale(0.95,1)" font-family="Liberation Sans, sans-serif" font-size="8.4">3</text>
<line x1="31.1" y1="306.1" x2="34.5" y2="306.1" stroke="#000" stroke-width="0.9"/>
<path transform="translate(27.97,134.3) scale(0.00520,-0.00547)" d="M515 0V1237L197 1010V1180L530 1409H696V0Z" fill="#000"/>
<text transform="translate(33.88,134.3) scale(0.95,1)" font-family="Liberation Sans, sans-serif" font-size="11.2">0</text>
<path transform="translate(34.41,178.2) scale(0.00509,-0.00547)" d="M515 0V1237L197 1010V1180L530 1409H696V0Z" fill="#000"/>
<text transform="translate(32.04,341.3)" font-family="Liberation Sans, sans-serif" font-size="11.8">2</text>
<path transform="translate(32.04,401.9) scale(0.00576,-0.00576)" d="M515 0V1237L197 1010V1180L530 1409H696V0Z" fill="#000"/>
<text transform="translate(22.2,462.5)" font-family="Liberation Sans, sans-serif" font-size="11.8">0</text>
<text transform="translate(28.76,462.5)" font-family="Liberation Sans, sans-serif" font-size="11.8">.</text>
<text transform="translate(32.04,462.5)" font-family="Liberation Sans, sans-serif" font-size="11.8">5</text>
<text transform="translate(373.8,341.3)" font-family="Liberation Sans, sans-serif" font-size="11.8">2</text>
<path transform="translate(373.8,401.9) scale(0.00576,-0.00576)" d="M515 0V1237L197 1010V1180L530 1409H696V0Z" fill="#000"/>
<text transform="translate(373.8,462.5)" font-family="Liberation Sans, sans-serif" font-size="11.8">0</text>
<text transform="translate(380.36,462.5)" font-family="Liberation Sans, sans-serif" font-size="11.8">.</text>
<text transform="translate(383.64,462.5)" font-family="Liberation Sans, sans-serif" font-size="11.8">5</text>
<text transform="translate(51.6,489) scale(0.95,1)" font-family="Liberation Sans, sans-serif" font-size="11.8" text-anchor="middle">0</text>
<text transform="translate(129.88,489) scale(0.95,1)" font-family="Liberation Sans, sans-serif" font-size="11.8" text-anchor="middle">2</text>
<text transform="translate(208.16,489) scale(0.95,1)" font-family="Liberation Sans, sans-serif" font-size="11.8" text-anchor="middle">4</text>
<text transform="translate(286.44,489) scale(0.95,1)" font-family="Liberation Sans, sans-serif" font-size="11.8" text-anchor="middle">6</text>
<text transform="translate(364.72,489) scale(0.95,1)" font-family="Liberation Sans, sans-serif" font-size="11.8" text-anchor="middle">8</text>
<text x="350.3" y="505.2" font-family="Liberation Sans, sans-serif" font-size="12">&#916;&#951;<tspan font-size="9" dy="-6.8" dx="0.6">F</tspan></text>
<text transform="translate(17.1,92.4) rotate(-90)" font-family="Liberation Sans, sans-serif" font-size="12">d&#963; / d&#916;&#951;<tspan font-size="8" dy="-6" dx="0.3">F</tspan><tspan dy="6" dx="-0.6"> [mb]</tspan></text>
<text transform="translate(17.9,428.2) rotate(-90) scale(0.97,1)" font-family="Liberation Sans, sans-serif" font-size="9.5">Ratio to ATLAS</text>
<text transform="translate(379.7,127.5) rotate(-90)" font-family="Liberation Sans, sans-serif" font-size="9.5" fill="#8a8a8a">Rivet 4.1.0, &#8805; 100k events</text>
<text transform="translate(381.3,314.3) rotate(-90)" font-family="Liberation Sans, sans-serif" font-size="9.5" fill="#8a8a8a">mcplots.cern.ch [arXiv:2401.10621]</text>
</svg></body></html>
